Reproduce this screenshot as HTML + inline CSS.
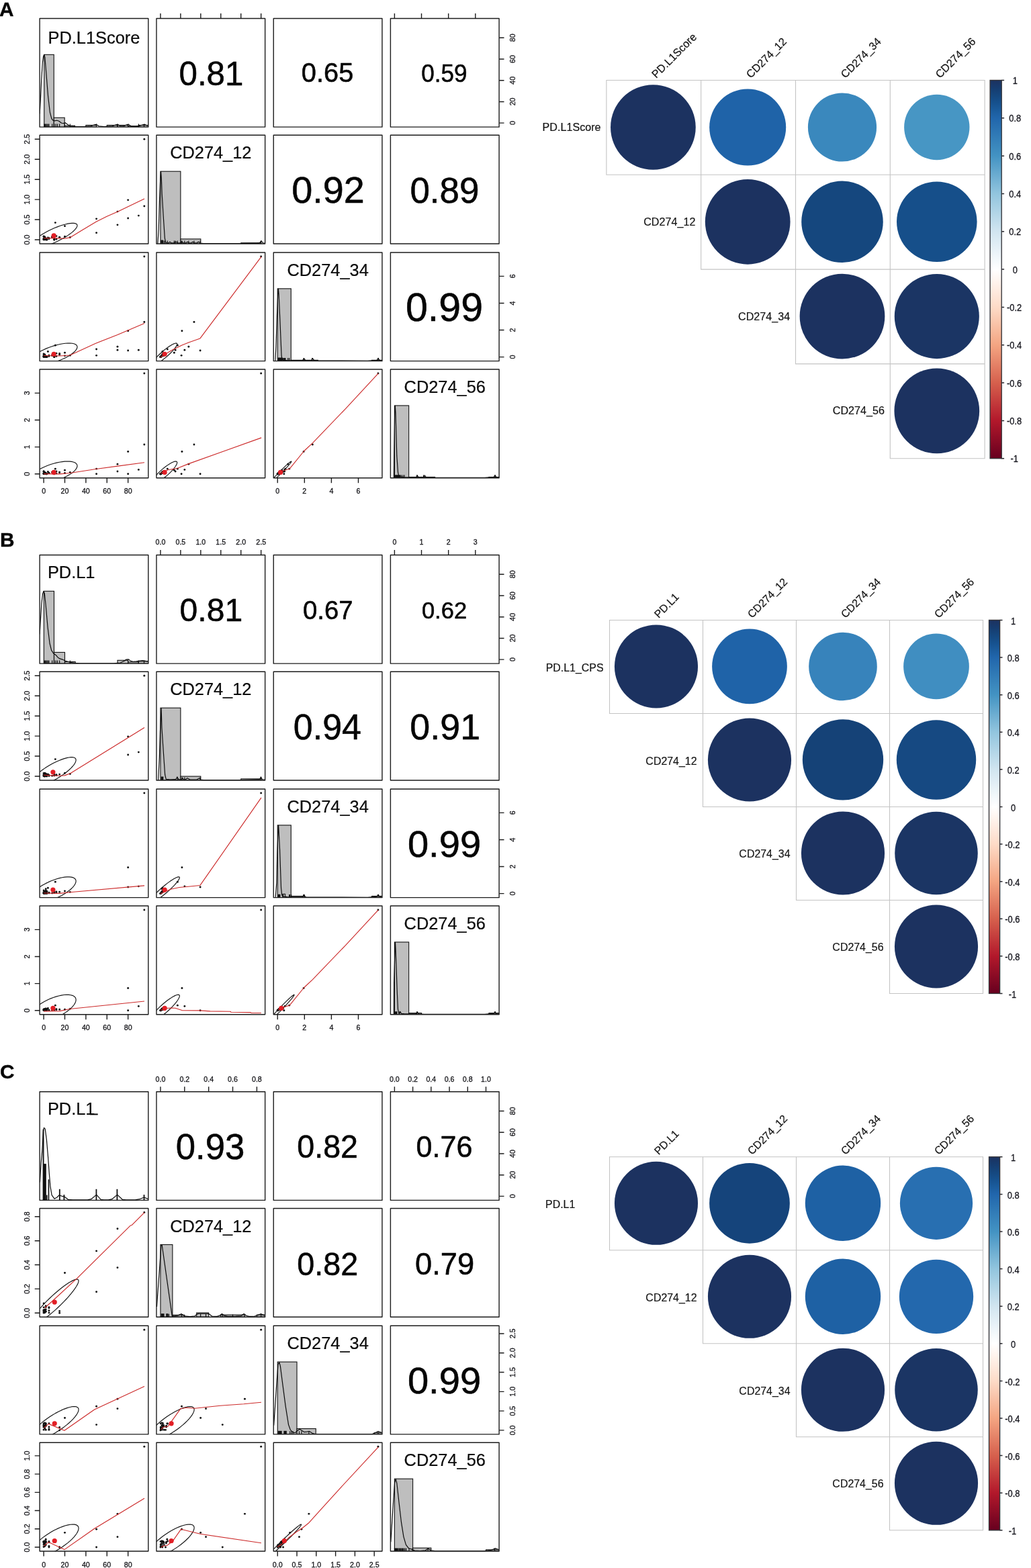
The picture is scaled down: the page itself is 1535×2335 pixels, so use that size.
<!DOCTYPE html>
<html lang="en"><head><meta charset="utf-8"><title>Figure: PD-L1 score vs CD274 expression correlations</title><style>html,body{margin:0;padding:0;background:#fff}body{width:1535px;height:2335px;overflow:hidden}svg{display:block}text{font-family:'Liberation Sans', sans-serif}</style></head><body><svg width="1535" height="2335" viewBox="0 0 1535 2335"><rect width="1535" height="2335" fill="#fff"/>
<!-- panel A -->
<g><text x="-0.9" y="23.9" font-size="29.8" font-weight="bold" fill="#060606" stroke="#060606" stroke-width="0.35">A</text><clipPath id="c1"><rect x="59.1" y="27.45" width="161.7" height="161.7"/></clipPath><g clip-path="url(#c1)"><rect x="65.73" y="81.35" width="14.5" height="107.8" fill="#bebebe" stroke="#111" stroke-width="1.1"/><rect x="80.23" y="175.24" width="15.93" height="13.91" fill="#bebebe" stroke="#111" stroke-width="1.1"/><rect x="96.16" y="187.21" width="15.38" height="1.94" fill="#bebebe" stroke="#111" stroke-width="1.1"/><rect x="127.87" y="186.45" width="15.69" height="2.69" fill="#bebebe" stroke="#111" stroke-width="1.1"/><rect x="159.25" y="186.45" width="15.69" height="2.69" fill="#bebebe" stroke="#111" stroke-width="1.1"/><rect x="174.95" y="186.45" width="15.69" height="2.69" fill="#bebebe" stroke="#111" stroke-width="1.1"/><rect x="190.64" y="187.75" width="15.69" height="1.4" fill="#bebebe" stroke="#111" stroke-width="1.1"/><rect x="206.34" y="186.45" width="15.69" height="2.69" fill="#bebebe" stroke="#111" stroke-width="1.1"/><polyline points="59.1,169.45 60.3,149.45 61.7,119.45 63.3,93.45 64.7,83.45 65.7,81.45 66.9,85.45 68.7,107.45 71.6,143.45 74.4,167.45 76.9,176.95 79.1,179.45 81.6,179.85 84.6,179.25 87.6,180.25 91.6,183.25 95.1,183.65 97.1,182.85 100.1,185.05 104.1,187.65 111.1,188.45 125.1,188.65 135.1,187.85 140.1,186.05 143.1,185.25 147.1,187.85 155.1,188.65 167.1,187.85 172.1,186.05 175.1,185.25 179.1,187.75 184.1,187.85 188.1,186.05 191.1,185.25 195.1,187.85 201.1,188.35 207.1,187.65 212.1,186.05 215.1,185.25 218.1,186.65 221.1,187.45" fill="none" stroke="#0c0c0c" stroke-width="1.2" stroke-linejoin="round"/><path d="M65.72 189.15v-4.6M66.97 189.15v-4.6M68.23 189.15v-4.6M69.8 189.15v-4.6M71.37 189.15v-4.6M72.94 189.15v-4.6M77.64 189.15v-4.6M80.78 189.15v-4.6M83.14 189.15v-4.6M85.49 189.15v-4.6M88.63 189.15v-4.6M96.48 189.15v-4.6M104.32 189.15v-4.6M143.56 189.15v-4.6M174.95 189.15v-4.6M190.64 189.15v-4.6M206.34 189.15v-4.6M214.5 189.15v-4.6" stroke="#0c0c0c" stroke-width="1.15" fill="none"/><text transform="translate(139.95 64.75) scale(0.9650 1)" font-size="26.3" text-anchor="middle" fill="#0b0b0b" stroke="#0b0b0b" stroke-width="0.25">PD.L1Score</text></g><rect x="59.1" y="27.45" width="161.7" height="161.7" fill="none" stroke="#1c1c1c" stroke-width="1.4" stroke-linejoin="round"/><clipPath id="c2"><rect x="232.95" y="27.45" width="161.7" height="161.7"/></clipPath><g clip-path="url(#c2)"><text transform="translate(314.48 126.79) scale(0.9895 1)" font-size="49.82" text-anchor="middle" fill="#050505" stroke="#050505" stroke-width="0.55" stroke-linejoin="round">0.81</text></g><rect x="232.95" y="27.45" width="161.7" height="161.7" fill="none" stroke="#1c1c1c" stroke-width="1.4" stroke-linejoin="round"/><clipPath id="c3"><rect x="407.25" y="27.45" width="161.7" height="161.7"/></clipPath><g clip-path="url(#c3)"><text transform="translate(487.53 122.24) scale(1.0006 1)" font-size="39.82" text-anchor="middle" fill="#050505" stroke="#050505" stroke-width="0.55" stroke-linejoin="round">0.65</text></g><rect x="407.25" y="27.45" width="161.7" height="161.7" fill="none" stroke="#1c1c1c" stroke-width="1.4" stroke-linejoin="round"/><clipPath id="c4"><rect x="581.4" y="27.45" width="161.7" height="161.7"/></clipPath><g clip-path="url(#c4)"><text transform="translate(661.45 121.88) scale(0.9648 1)" font-size="36.41" text-anchor="middle" fill="#050505" stroke="#050505" stroke-width="0.55" stroke-linejoin="round">0.59</text></g><rect x="581.4" y="27.45" width="161.7" height="161.7" fill="none" stroke="#1c1c1c" stroke-width="1.4" stroke-linejoin="round"/><clipPath id="c5"><rect x="59.1" y="201.3" width="161.7" height="161.7"/></clipPath><g clip-path="url(#c5)"><polygon points="113.3,333.18 111.73,332.61 109.68,332.32 107.18,332.31 104.28,332.58 101,333.12 97.41,333.94 93.56,335.01 89.51,336.32 85.32,337.85 81.04,339.58 76.76,341.47 72.52,343.52 68.4,345.67 64.46,347.9 60.76,350.17 57.35,352.46 54.28,354.72 51.61,356.92 49.37,359.03 47.6,361.01 46.32,362.85 45.56,364.5 45.31,365.94 45.6,367.15 46.41,368.12 47.73,368.82 49.55,369.25 51.83,369.41 54.53,369.28 57.63,368.87 61.07,368.19 64.79,367.25 68.75,366.05 72.88,364.63 77.13,363 81.41,361.18 85.68,359.21 89.87,357.11 93.91,354.91 97.74,352.65 101.3,350.37 104.54,348.09 107.42,345.86 109.87,343.7 111.88,341.65 113.41,339.73 114.44,337.99 114.94,336.44 114.92,335.11 114.37,334.02" fill="none" stroke="#141414" stroke-width="1.15" stroke-linejoin="round"/><g fill="#111"><circle cx="214.81" cy="207.29" r="1.45"/><circle cx="214.81" cy="307" r="1.45"/><circle cx="190.64" cy="325.03" r="1.45"/><circle cx="190.64" cy="297.84" r="1.45"/><circle cx="174.95" cy="315.09" r="1.45"/><circle cx="174.95" cy="334.85" r="1.45"/><circle cx="206.34" cy="321.08" r="1.45"/><circle cx="143.56" cy="325.87" r="1.45"/><circle cx="143.56" cy="346.65" r="1.45"/><circle cx="82.35" cy="331.62" r="1.45"/><circle cx="96.48" cy="336.65" r="1.45"/><circle cx="96.48" cy="352.22" r="1.45"/><circle cx="104.32" cy="353.54" r="1.45"/><circle cx="71.37" cy="354.02" r="1.45"/><circle cx="65.09" cy="355.75" r="1.45"/><circle cx="66.66" cy="355.51" r="1.45"/><circle cx="68.23" cy="354.68" r="1.45"/><circle cx="69.8" cy="356.89" r="1.45"/><circle cx="65.09" cy="351.86" r="1.45"/><circle cx="66.66" cy="356.83" r="1.45"/><circle cx="68.23" cy="356.77" r="1.45"/><circle cx="72.94" cy="355.63" r="1.45"/><circle cx="80.78" cy="355.45" r="1.45"/><circle cx="83.92" cy="351.62" r="1.45"/><circle cx="65.09" cy="356.41" r="1.45"/><circle cx="66.66" cy="354.32" r="1.45"/><circle cx="77.64" cy="352.28" r="1.45"/><circle cx="88.63" cy="353.36" r="1.45"/><circle cx="80.78" cy="356.95" r="1.45"/><circle cx="69.8" cy="356.95" r="1.45"/><circle cx="65.09" cy="356.89" r="1.45"/><circle cx="66.66" cy="354.5" r="1.45"/><circle cx="68.23" cy="356.65" r="1.45"/><circle cx="69.8" cy="356.89" r="1.45"/><circle cx="65.09" cy="352.28" r="1.45"/><circle cx="66.66" cy="356.65" r="1.45"/><circle cx="68.23" cy="356.89" r="1.45"/><circle cx="72.94" cy="354.38" r="1.45"/><circle cx="80.78" cy="356.89" r="1.45"/><circle cx="83.92" cy="356.17" r="1.45"/><circle cx="65.09" cy="354.92" r="1.45"/><circle cx="66.66" cy="352.7" r="1.45"/><circle cx="77.64" cy="353.78" r="1.45"/><circle cx="88.63" cy="353.3" r="1.45"/><circle cx="80.78" cy="357.01" r="1.45"/><circle cx="69.8" cy="356.41" r="1.45"/><circle cx="65.09" cy="356.71" r="1.45"/><circle cx="66.66" cy="355.03" r="1.45"/></g><polyline points="65.1,354.8 74.1,354.5 88.6,354.9 96.1,355.3 104.6,353.6 123.1,342.3 143.1,330.3 159.1,322.3 175.1,315.3 215,295.9" fill="none" stroke="#cc2a2a" stroke-width="1.15" stroke-linejoin="round"/><circle cx="80.16" cy="350.84" r="3.6" fill="#e21f26"/></g><rect x="59.1" y="201.3" width="161.7" height="161.7" fill="none" stroke="#1c1c1c" stroke-width="1.4" stroke-linejoin="round"/><clipPath id="c6"><rect x="232.95" y="201.3" width="161.7" height="161.7"/></clipPath><g clip-path="url(#c6)"><rect x="238.94" y="255.2" width="29.94" height="107.8" fill="#bebebe" stroke="#111" stroke-width="1.1"/><rect x="268.88" y="355.89" width="29.94" height="7.11" fill="#bebebe" stroke="#111" stroke-width="1.1"/><rect x="358.72" y="361.71" width="29.94" height="1.29" fill="#bebebe" stroke="#111" stroke-width="1.1"/><polyline points="234.85,362.9 236.25,341.3 237.35,301.4 238.75,266 239.55,255.5 240.35,266 241.15,288.1 243.15,321.3 245.35,354.6 246.45,360.1 248.15,361.6 250.95,361.8 252.95,360.1 254.95,361.8 259.95,361.9 261.95,359.9 263.95,361.9 268.95,361.7 270.95,360.1 272.95,361.8 276.95,361.8 278.95,360.1 280.95,361.8 284.95,361.8 286.95,360.1 288.95,361.9 292.95,361.9 295.45,360.1 297.95,362.1 302.95,362.5 360.95,362.5 382.95,361.9 386.45,361.7 388.95,358.7 391.45,361.9 394.65,362.3" fill="none" stroke="#0c0c0c" stroke-width="1.2" stroke-linejoin="round"/><path d="M244.33 363v-4.6M246.13 363v-4.6M249.3 363v-4.6M259.3 363v-4.6M261.1 363v-4.6M264.33 363v-4.6M270.08 363v-4.6M270.92 363v-4.6M274.87 363v-4.6M280.86 363v-4.6M288.95 363v-4.6M298.11 363v-4.6M388.66 363v-4.6" stroke="#0c0c0c" stroke-width="1.15" fill="none"/><rect x="239.25" y="357.5" width="3.9" height="5.5" fill="#111"/><text transform="translate(313.8 236.45) scale(0.9650 1)" font-size="26.3" text-anchor="middle" fill="#0b0b0b" stroke="#0b0b0b" stroke-width="0.25">CD274_12</text></g><rect x="232.95" y="201.3" width="161.7" height="161.7" fill="none" stroke="#1c1c1c" stroke-width="1.4" stroke-linejoin="round"/><clipPath id="c7"><rect x="407.25" y="201.3" width="161.7" height="161.7"/></clipPath><g clip-path="url(#c7)"><text transform="translate(488.48 302.35) scale(1.0153 1)" font-size="54.95" text-anchor="middle" fill="#050505" stroke="#050505" stroke-width="0.55" stroke-linejoin="round">0.92</text></g><rect x="407.25" y="201.3" width="161.7" height="161.7" fill="none" stroke="#1c1c1c" stroke-width="1.4" stroke-linejoin="round"/><clipPath id="c8"><rect x="581.4" y="201.3" width="161.7" height="161.7"/></clipPath><g clip-path="url(#c8)"><text transform="translate(661.91 301.77) scale(0.9995 1)" font-size="52.96" text-anchor="middle" fill="#050505" stroke="#050505" stroke-width="0.55" stroke-linejoin="round">0.89</text></g><rect x="581.4" y="201.3" width="161.7" height="161.7" fill="none" stroke="#1c1c1c" stroke-width="1.4" stroke-linejoin="round"/><clipPath id="c9"><rect x="59.1" y="375.95" width="161.7" height="161.7"/></clipPath><g clip-path="url(#c9)"><polygon points="111.8,512.51 109.77,511.78 107.29,511.29 104.4,511.05 101.14,511.05 97.56,511.29 93.72,511.78 89.68,512.5 85.49,513.44 81.21,514.6 76.93,515.95 72.69,517.46 68.56,519.13 64.61,520.92 60.9,522.8 57.48,524.75 54.4,526.75 51.71,528.74 49.45,530.72 47.66,532.64 46.36,534.48 45.58,536.21 45.31,537.81 45.58,539.24 46.37,540.5 47.67,541.55 49.47,542.39 51.73,542.99 54.42,543.36 57.5,543.49 60.92,543.36 64.64,543 68.59,542.39 72.72,541.56 76.95,540.51 81.24,539.25 85.51,537.82 89.7,536.22 93.75,534.49 97.59,532.65 101.16,530.73 104.42,528.76 107.31,526.76 109.79,524.77 111.81,522.82 113.36,520.93 114.41,519.14 114.93,517.47 114.93,515.95 114.4,514.61 113.35,513.45" fill="none" stroke="#141414" stroke-width="1.15" stroke-linejoin="round"/><g fill="#111"><circle cx="214.81" cy="381.94" r="1.45"/><circle cx="214.81" cy="479.55" r="1.45"/><circle cx="190.64" cy="492.78" r="1.45"/><circle cx="190.64" cy="522.04" r="1.45"/><circle cx="174.95" cy="516.23" r="1.45"/><circle cx="174.95" cy="521.24" r="1.45"/><circle cx="206.34" cy="521.24" r="1.45"/><circle cx="143.56" cy="529.36" r="1.45"/><circle cx="143.56" cy="520.04" r="1.45"/><circle cx="82.35" cy="514.22" r="1.45"/><circle cx="96.48" cy="525.25" r="1.45"/><circle cx="96.48" cy="529.86" r="1.45"/><circle cx="104.32" cy="529.36" r="1.45"/><circle cx="71.37" cy="523.44" r="1.45"/><circle cx="65.09" cy="530.04" r="1.45"/><circle cx="66.66" cy="530.46" r="1.45"/><circle cx="68.23" cy="530.1" r="1.45"/><circle cx="69.8" cy="531.56" r="1.45"/><circle cx="65.09" cy="526.83" r="1.45"/><circle cx="66.66" cy="531.42" r="1.45"/><circle cx="68.23" cy="531.44" r="1.45"/><circle cx="72.94" cy="530.44" r="1.45"/><circle cx="80.78" cy="530.22" r="1.45"/><circle cx="83.92" cy="526.15" r="1.45"/><circle cx="65.09" cy="531.06" r="1.45"/><circle cx="66.66" cy="528.03" r="1.45"/><circle cx="77.64" cy="528.86" r="1.45"/><circle cx="88.63" cy="526.53" r="1.45"/><circle cx="80.78" cy="531.58" r="1.45"/><circle cx="69.8" cy="531.54" r="1.45"/><circle cx="65.09" cy="531.56" r="1.45"/><circle cx="66.66" cy="528.39" r="1.45"/><circle cx="68.23" cy="531.42" r="1.45"/><circle cx="69.8" cy="531.54" r="1.45"/><circle cx="65.09" cy="527.91" r="1.45"/><circle cx="66.66" cy="531.2" r="1.45"/><circle cx="68.23" cy="531.56" r="1.45"/><circle cx="72.94" cy="529.08" r="1.45"/><circle cx="80.78" cy="531.58" r="1.45"/><circle cx="83.92" cy="530.46" r="1.45"/><circle cx="65.09" cy="530.2" r="1.45"/><circle cx="66.66" cy="528.43" r="1.45"/><circle cx="77.64" cy="529.44" r="1.45"/><circle cx="88.63" cy="528.17" r="1.45"/><circle cx="80.78" cy="531.64" r="1.45"/><circle cx="69.8" cy="531.12" r="1.45"/><circle cx="65.09" cy="531.46" r="1.45"/><circle cx="66.66" cy="529.74" r="1.45"/></g><polyline points="65.1,529.55 89.1,529.95 104.1,528.95 142.1,511.45 175.1,498.45 215,481.45" fill="none" stroke="#cc2a2a" stroke-width="1.15" stroke-linejoin="round"/><circle cx="80.16" cy="527.25" r="3.6" fill="#e21f26"/></g><rect x="59.1" y="375.95" width="161.7" height="161.7" fill="none" stroke="#1c1c1c" stroke-width="1.4" stroke-linejoin="round"/><clipPath id="c10"><rect x="232.95" y="375.95" width="161.7" height="161.7"/></clipPath><g clip-path="url(#c10)"><polygon points="263.3,511.34 262.7,511.07 261.84,511.03 260.73,511.25 259.38,511.7 257.81,512.39 256.05,513.31 254.12,514.44 252.06,515.76 249.89,517.25 247.65,518.9 245.37,520.68 243.09,522.55 240.84,524.5 238.65,526.48 236.56,528.48 234.6,530.46 232.8,532.39 231.18,534.25 229.78,535.99 228.61,537.61 227.69,539.07 227.03,540.35 226.65,541.43 226.54,542.29 226.72,542.93 227.18,543.33 227.91,543.48 228.9,543.39 230.13,543.06 231.6,542.49 233.26,541.68 235.11,540.66 237.11,539.43 239.23,538.02 241.44,536.44 243.7,534.73 245.99,532.9 248.26,530.99 250.48,529.02 252.63,527.02 254.66,525.03 256.54,523.07 258.25,521.17 259.76,519.37 261.05,517.68 262.1,516.14 262.89,514.77 263.41,513.59 263.65,512.62 263.62,511.86" fill="none" stroke="#141414" stroke-width="1.15" stroke-linejoin="round"/><g fill="#111"><circle cx="388.66" cy="381.94" r="1.45"/><circle cx="288.95" cy="479.55" r="1.45"/><circle cx="270.92" cy="492.78" r="1.45"/><circle cx="298.11" cy="522.04" r="1.45"/><circle cx="280.86" cy="516.23" r="1.45"/><circle cx="261.1" cy="521.24" r="1.45"/><circle cx="274.87" cy="521.24" r="1.45"/><circle cx="270.08" cy="529.36" r="1.45"/><circle cx="249.3" cy="520.04" r="1.45"/><circle cx="264.33" cy="514.22" r="1.45"/><circle cx="259.3" cy="525.25" r="1.45"/><circle cx="243.73" cy="529.86" r="1.45"/><circle cx="242.41" cy="529.36" r="1.45"/><circle cx="241.93" cy="523.44" r="1.45"/><circle cx="240.2" cy="530.04" r="1.45"/><circle cx="240.44" cy="530.46" r="1.45"/><circle cx="241.27" cy="530.1" r="1.45"/><circle cx="239.06" cy="531.56" r="1.45"/><circle cx="244.09" cy="526.83" r="1.45"/><circle cx="239.12" cy="531.42" r="1.45"/><circle cx="239.18" cy="531.44" r="1.45"/><circle cx="240.32" cy="530.44" r="1.45"/><circle cx="240.5" cy="530.22" r="1.45"/><circle cx="244.33" cy="526.15" r="1.45"/><circle cx="239.54" cy="531.06" r="1.45"/><circle cx="241.63" cy="528.03" r="1.45"/><circle cx="243.67" cy="528.86" r="1.45"/><circle cx="242.59" cy="526.53" r="1.45"/><circle cx="239" cy="531.58" r="1.45"/><circle cx="239" cy="531.54" r="1.45"/><circle cx="239.06" cy="531.56" r="1.45"/><circle cx="241.45" cy="528.39" r="1.45"/><circle cx="239.3" cy="531.42" r="1.45"/><circle cx="239.06" cy="531.54" r="1.45"/><circle cx="243.67" cy="527.91" r="1.45"/><circle cx="239.3" cy="531.2" r="1.45"/><circle cx="239.06" cy="531.56" r="1.45"/><circle cx="241.57" cy="529.08" r="1.45"/><circle cx="239.06" cy="531.58" r="1.45"/><circle cx="239.78" cy="530.46" r="1.45"/><circle cx="241.03" cy="530.2" r="1.45"/><circle cx="243.25" cy="528.43" r="1.45"/><circle cx="242.17" cy="529.44" r="1.45"/><circle cx="242.65" cy="528.17" r="1.45"/><circle cx="238.94" cy="531.64" r="1.45"/><circle cx="239.54" cy="531.12" r="1.45"/><circle cx="239.24" cy="531.46" r="1.45"/><circle cx="240.92" cy="529.74" r="1.45"/></g><polyline points="238.95,531.95 244.95,527.95 256.95,520.95 270.95,513.95 280.95,509.95 297.95,503.95 388.95,382.45" fill="none" stroke="#cc2a2a" stroke-width="1.15" stroke-linejoin="round"/><circle cx="245.11" cy="527.25" r="3.6" fill="#e21f26"/></g><rect x="232.95" y="375.95" width="161.7" height="161.7" fill="none" stroke="#1c1c1c" stroke-width="1.4" stroke-linejoin="round"/><clipPath id="c11"><rect x="407.25" y="375.95" width="161.7" height="161.7"/></clipPath><g clip-path="url(#c11)"><rect x="413.24" y="429.85" width="20.04" height="107.8" fill="#bebebe" stroke="#111" stroke-width="1.1"/><rect x="433.28" y="536.36" width="20.04" height="1.29" fill="#bebebe" stroke="#111" stroke-width="1.1"/><rect x="453.33" y="536.36" width="20.04" height="1.29" fill="#bebebe" stroke="#111" stroke-width="1.1"/><rect x="553.54" y="536.36" width="20.04" height="1.29" fill="#bebebe" stroke="#111" stroke-width="1.1"/><polyline points="409.85,537.35 410.95,515.85 412.45,469.25 413.75,438.25 414.45,430.35 415.15,438.25 416.85,475.95 419.05,529.05 419.85,534.65 421.25,536.25 427.25,536.55 447.25,536.75 450.25,536.55 450.25,536.65 451.57,535.5 452.65,533.55 453.73,535.5 455.05,536.65 459.25,536.75 463.15,536.65 464.47,535.5 465.55,533.55 466.63,535.5 467.95,536.65 473.25,537.15 547.25,537.25 557.25,536.55 560.75,536.55 562.07,535.35 563.15,533.35 564.23,535.35 565.55,536.55 568.95,536.95" fill="none" stroke="#0c0c0c" stroke-width="1.2" stroke-linejoin="round"/><path d="M421.46 537.65v-4.6M422.86 537.65v-4.6M423.66 537.65v-4.6M424.86 537.65v-4.6M428.67 537.65v-4.6M430.68 537.65v-4.6M452.12 537.65v-4.6M464.55 537.65v-4.6M562.96 537.65v-4.6" stroke="#0c0c0c" stroke-width="1.15" fill="none"/><rect x="413.55" y="532.55" width="7.2" height="5.1" fill="#111"/><text transform="translate(488.1 411.1) scale(0.9650 1)" font-size="26.3" text-anchor="middle" fill="#0b0b0b" stroke="#0b0b0b" stroke-width="0.25">CD274_34</text></g><rect x="407.25" y="375.95" width="161.7" height="161.7" fill="none" stroke="#1c1c1c" stroke-width="1.4" stroke-linejoin="round"/><clipPath id="c12"><rect x="581.4" y="375.95" width="161.7" height="161.7"/></clipPath><g clip-path="url(#c12)"><text transform="translate(661.51 477.93) scale(1.0143 1)" font-size="58.32" text-anchor="middle" fill="#050505" stroke="#050505" stroke-width="0.55" stroke-linejoin="round">0.99</text></g><rect x="581.4" y="375.95" width="161.7" height="161.7" fill="none" stroke="#1c1c1c" stroke-width="1.4" stroke-linejoin="round"/><clipPath id="c13"><rect x="59.1" y="550.05" width="161.7" height="161.7"/></clipPath><g clip-path="url(#c13)"><polygon points="111.22,688.8 109.05,687.99 106.43,687.42 103.42,687.1 100.06,687.02 96.4,687.19 92.49,687.61 88.39,688.27 84.16,689.16 79.88,690.26 75.6,691.57 71.39,693.06 67.31,694.7 63.43,696.48 59.8,698.36 56.48,700.32 53.52,702.33 50.96,704.36 48.85,706.37 47.2,708.34 46.06,710.23 45.44,712.03 45.34,713.69 45.77,715.2 46.72,716.53 48.18,717.66 50.12,718.58 52.52,719.27 55.33,719.72 58.53,719.92 62.05,719.87 65.84,719.58 69.85,719.04 74.02,718.26 78.28,717.26 82.57,716.05 86.83,714.66 90.98,713.09 94.97,711.37 98.73,709.54 102.21,707.61 105.36,705.62 108.12,703.6 110.46,701.58 112.35,699.58 113.74,697.65 114.62,695.8 114.99,694.07 114.82,692.48 114.13,691.06 112.92,689.83" fill="none" stroke="#141414" stroke-width="1.15" stroke-linejoin="round"/><g fill="#111"><circle cx="214.81" cy="556.04" r="1.45"/><circle cx="214.81" cy="662.01" r="1.45"/><circle cx="190.64" cy="672.44" r="1.45"/><circle cx="190.64" cy="705.76" r="1.45"/><circle cx="174.95" cy="691.15" r="1.45"/><circle cx="174.95" cy="701.99" r="1.45"/><circle cx="206.34" cy="699.42" r="1.45"/><circle cx="143.56" cy="705.76" r="1.45"/><circle cx="143.56" cy="698.13" r="1.45"/><circle cx="82.35" cy="698.13" r="1.45"/><circle cx="96.48" cy="700.14" r="1.45"/><circle cx="96.48" cy="704.56" r="1.45"/><circle cx="104.32" cy="703.35" r="1.45"/><circle cx="71.37" cy="702.55" r="1.45"/><circle cx="65.09" cy="704.84" r="1.45"/><circle cx="66.66" cy="704.64" r="1.45"/><circle cx="68.23" cy="704.4" r="1.45"/><circle cx="69.8" cy="705.72" r="1.45"/><circle cx="65.09" cy="702.31" r="1.45"/><circle cx="66.66" cy="705.64" r="1.45"/><circle cx="68.23" cy="705.52" r="1.45"/><circle cx="72.94" cy="704.8" r="1.45"/><circle cx="80.78" cy="704.84" r="1.45"/><circle cx="83.92" cy="701.99" r="1.45"/><circle cx="65.09" cy="705.4" r="1.45"/><circle cx="66.66" cy="703.75" r="1.45"/><circle cx="77.64" cy="703.27" r="1.45"/><circle cx="88.63" cy="703.11" r="1.45"/><circle cx="80.78" cy="705.72" r="1.45"/><circle cx="69.8" cy="705.68" r="1.45"/><circle cx="65.09" cy="705.68" r="1.45"/><circle cx="66.66" cy="703.55" r="1.45"/><circle cx="68.23" cy="705.52" r="1.45"/><circle cx="69.8" cy="705.68" r="1.45"/><circle cx="65.09" cy="701.79" r="1.45"/><circle cx="66.66" cy="705.48" r="1.45"/><circle cx="68.23" cy="705.68" r="1.45"/><circle cx="72.94" cy="704.2" r="1.45"/><circle cx="80.78" cy="705.68" r="1.45"/><circle cx="83.92" cy="705.08" r="1.45"/><circle cx="65.09" cy="704.72" r="1.45"/><circle cx="66.66" cy="703.51" r="1.45"/><circle cx="77.64" cy="703.11" r="1.45"/><circle cx="88.63" cy="703.75" r="1.45"/><circle cx="80.78" cy="705.72" r="1.45"/><circle cx="69.8" cy="705.44" r="1.45"/><circle cx="65.09" cy="705.6" r="1.45"/><circle cx="66.66" cy="704.64" r="1.45"/></g><polyline points="65.1,705.65 89.1,705.85 104.1,704.45 142.8,698.55 175.1,694.15 215,688.75" fill="none" stroke="#cc2a2a" stroke-width="1.15" stroke-linejoin="round"/><circle cx="80.16" cy="703.47" r="3.6" fill="#e21f26"/></g><rect x="59.1" y="550.05" width="161.7" height="161.7" fill="none" stroke="#1c1c1c" stroke-width="1.4" stroke-linejoin="round"/><clipPath id="c14"><rect x="232.95" y="550.05" width="161.7" height="161.7"/></clipPath><g clip-path="url(#c14)"><polygon points="263.16,687.47 262.48,687.12 261.55,687.02 260.36,687.16 258.95,687.55 257.32,688.19 255.51,689.05 253.54,690.13 251.45,691.42 249.25,692.89 247,694.52 244.72,696.28 242.44,698.15 240.2,700.11 238.04,702.11 235.98,704.14 234.06,706.15 232.31,708.13 230.76,710.03 229.42,711.84 228.32,713.52 227.47,715.04 226.89,716.39 226.59,717.55 226.57,718.49 226.83,719.2 227.36,719.68 228.17,719.91 229.23,719.89 230.53,719.62 232.06,719.11 233.78,718.36 235.67,717.38 237.71,716.19 239.85,714.81 242.08,713.26 244.36,711.56 246.64,709.74 248.9,707.82 251.11,705.84 253.22,703.82 255.21,701.8 257.05,699.8 258.71,697.85 260.16,696 261.38,694.25 262.35,692.65 263.07,691.2 263.51,689.95 263.67,688.9 263.55,688.07" fill="none" stroke="#141414" stroke-width="1.15" stroke-linejoin="round"/><g fill="#111"><circle cx="388.66" cy="556.04" r="1.45"/><circle cx="288.95" cy="662.01" r="1.45"/><circle cx="270.92" cy="672.44" r="1.45"/><circle cx="298.11" cy="705.76" r="1.45"/><circle cx="280.86" cy="691.15" r="1.45"/><circle cx="261.1" cy="701.99" r="1.45"/><circle cx="274.87" cy="699.42" r="1.45"/><circle cx="270.08" cy="705.76" r="1.45"/><circle cx="249.3" cy="698.13" r="1.45"/><circle cx="264.33" cy="698.13" r="1.45"/><circle cx="259.3" cy="700.14" r="1.45"/><circle cx="243.73" cy="704.56" r="1.45"/><circle cx="242.41" cy="703.35" r="1.45"/><circle cx="241.93" cy="702.55" r="1.45"/><circle cx="240.2" cy="704.84" r="1.45"/><circle cx="240.44" cy="704.64" r="1.45"/><circle cx="241.27" cy="704.4" r="1.45"/><circle cx="239.06" cy="705.72" r="1.45"/><circle cx="244.09" cy="702.31" r="1.45"/><circle cx="239.12" cy="705.64" r="1.45"/><circle cx="239.18" cy="705.52" r="1.45"/><circle cx="240.32" cy="704.8" r="1.45"/><circle cx="240.5" cy="704.84" r="1.45"/><circle cx="244.33" cy="701.99" r="1.45"/><circle cx="239.54" cy="705.4" r="1.45"/><circle cx="241.63" cy="703.75" r="1.45"/><circle cx="243.67" cy="703.27" r="1.45"/><circle cx="242.59" cy="703.11" r="1.45"/><circle cx="239" cy="705.72" r="1.45"/><circle cx="239" cy="705.68" r="1.45"/><circle cx="239.06" cy="705.68" r="1.45"/><circle cx="241.45" cy="703.55" r="1.45"/><circle cx="239.3" cy="705.52" r="1.45"/><circle cx="239.06" cy="705.68" r="1.45"/><circle cx="243.67" cy="701.79" r="1.45"/><circle cx="239.3" cy="705.48" r="1.45"/><circle cx="239.06" cy="705.68" r="1.45"/><circle cx="241.57" cy="704.2" r="1.45"/><circle cx="239.06" cy="705.68" r="1.45"/><circle cx="239.78" cy="705.08" r="1.45"/><circle cx="241.03" cy="704.72" r="1.45"/><circle cx="243.25" cy="703.51" r="1.45"/><circle cx="242.17" cy="703.11" r="1.45"/><circle cx="242.65" cy="703.75" r="1.45"/><circle cx="238.94" cy="705.72" r="1.45"/><circle cx="239.54" cy="705.44" r="1.45"/><circle cx="239.24" cy="705.6" r="1.45"/><circle cx="240.92" cy="704.64" r="1.45"/></g><polyline points="238.95,705.05 250.05,699.75 263.75,697.45 280.85,690.65 332.95,672.05 389.15,651.85" fill="none" stroke="#cc2a2a" stroke-width="1.15" stroke-linejoin="round"/><circle cx="245.11" cy="703.47" r="3.6" fill="#e21f26"/></g><rect x="232.95" y="550.05" width="161.7" height="161.7" fill="none" stroke="#1c1c1c" stroke-width="1.4" stroke-linejoin="round"/><clipPath id="c15"><rect x="407.25" y="550.05" width="161.7" height="161.7"/></clipPath><g clip-path="url(#c15)"><polygon points="433.84,687.06 433.58,687.04 433.07,687.27 432.33,687.75 431.37,688.46 430.2,689.4 428.84,690.56 427.31,691.91 425.64,693.44 423.84,695.11 421.95,696.92 419.99,698.82 418,700.8 416,702.82 414.03,704.84 412.11,706.85 410.28,708.8 408.56,710.67 406.97,712.44 405.55,714.07 404.31,715.53 403.28,716.82 402.46,717.9 401.87,718.76 401.52,719.4 401.41,719.79 401.56,719.93 401.94,719.82 402.56,719.47 403.42,718.87 404.48,718.04 405.75,716.99 407.2,715.74 408.81,714.29 410.55,712.69 412.39,710.94 414.32,709.08 416.3,707.14 418.3,705.14 420.29,703.12 422.23,701.1 424.11,699.11 425.89,697.2 427.55,695.38 429.06,693.68 430.39,692.13 431.53,690.75 432.46,689.56 433.16,688.59 433.63,687.84 433.86,687.32" fill="none" stroke="#141414" stroke-width="1.15" stroke-linejoin="round"/><g fill="#111"><circle cx="562.96" cy="556.04" r="1.45"/><circle cx="465.35" cy="662.01" r="1.45"/><circle cx="452.12" cy="672.44" r="1.45"/><circle cx="422.86" cy="705.76" r="1.45"/><circle cx="428.67" cy="691.15" r="1.45"/><circle cx="423.66" cy="701.99" r="1.45"/><circle cx="423.66" cy="699.42" r="1.45"/><circle cx="415.54" cy="705.76" r="1.45"/><circle cx="424.86" cy="698.13" r="1.45"/><circle cx="430.68" cy="698.13" r="1.45"/><circle cx="419.65" cy="700.14" r="1.45"/><circle cx="415.04" cy="704.56" r="1.45"/><circle cx="415.54" cy="703.35" r="1.45"/><circle cx="421.46" cy="702.55" r="1.45"/><circle cx="414.86" cy="704.84" r="1.45"/><circle cx="414.44" cy="704.64" r="1.45"/><circle cx="414.8" cy="704.4" r="1.45"/><circle cx="413.34" cy="705.72" r="1.45"/><circle cx="418.07" cy="702.31" r="1.45"/><circle cx="413.48" cy="705.64" r="1.45"/><circle cx="413.46" cy="705.52" r="1.45"/><circle cx="414.46" cy="704.8" r="1.45"/><circle cx="414.68" cy="704.84" r="1.45"/><circle cx="418.75" cy="701.99" r="1.45"/><circle cx="413.84" cy="705.4" r="1.45"/><circle cx="416.87" cy="703.75" r="1.45"/><circle cx="416.04" cy="703.27" r="1.45"/><circle cx="418.37" cy="703.11" r="1.45"/><circle cx="413.32" cy="705.72" r="1.45"/><circle cx="413.36" cy="705.68" r="1.45"/><circle cx="413.34" cy="705.68" r="1.45"/><circle cx="416.51" cy="703.55" r="1.45"/><circle cx="413.48" cy="705.52" r="1.45"/><circle cx="413.36" cy="705.68" r="1.45"/><circle cx="416.99" cy="701.79" r="1.45"/><circle cx="413.7" cy="705.48" r="1.45"/><circle cx="413.34" cy="705.68" r="1.45"/><circle cx="415.82" cy="704.2" r="1.45"/><circle cx="413.32" cy="705.68" r="1.45"/><circle cx="414.44" cy="705.08" r="1.45"/><circle cx="414.7" cy="704.72" r="1.45"/><circle cx="416.47" cy="703.51" r="1.45"/><circle cx="415.46" cy="703.11" r="1.45"/><circle cx="416.73" cy="703.75" r="1.45"/><circle cx="413.26" cy="705.72" r="1.45"/><circle cx="413.78" cy="705.44" r="1.45"/><circle cx="413.44" cy="705.6" r="1.45"/><circle cx="415.16" cy="704.64" r="1.45"/></g><polyline points="414.25,705.05 418.75,702.05 431.35,697.95 452.55,671.75 465.55,659.55 514.55,608.55 563.15,556.15" fill="none" stroke="#cc2a2a" stroke-width="1.15" stroke-linejoin="round"/><circle cx="417.65" cy="703.47" r="3.6" fill="#e21f26"/></g><rect x="407.25" y="550.05" width="161.7" height="161.7" fill="none" stroke="#1c1c1c" stroke-width="1.4" stroke-linejoin="round"/><clipPath id="c16"><rect x="581.4" y="550.05" width="161.7" height="161.7"/></clipPath><g clip-path="url(#c16)"><rect x="587.39" y="603.95" width="21.27" height="107.8" fill="#bebebe" stroke="#111" stroke-width="1.1"/><rect x="608.66" y="710.46" width="18.87" height="1.29" fill="#bebebe" stroke="#111" stroke-width="1.1"/><rect x="627.53" y="710.46" width="20.07" height="1.29" fill="#bebebe" stroke="#111" stroke-width="1.1"/><rect x="727.88" y="710.46" width="20.07" height="1.29" fill="#bebebe" stroke="#111" stroke-width="1.1"/><polyline points="586.4,711.35 586.75,676.45 587.7,614.45 588.3,604.25 589,614.45 590.8,678.65 592.5,703.05 593.6,708.55 595.3,709.85 601.4,710.65 617.4,710.85 619.1,710.85 620.31,709.75 621.3,707.85 622.29,709.75 623.5,710.85 627.4,710.85 630.2,710.85 631.41,709.75 632.4,707.85 633.39,709.75 634.6,710.85 641.4,711.25 721.4,711.35 731.4,710.65 734.8,710.65 736.01,709.55 737,707.65 737.99,709.55 739.2,710.65 743.1,711.05" fill="none" stroke="#0c0c0c" stroke-width="1.2" stroke-linejoin="round"/><path d="M597.42 711.75v-4.6M599.83 711.75v-4.6M602 711.75v-4.6M620.71 711.75v-4.6M630.58 711.75v-4.6M737.11 711.75v-4.6" stroke="#0c0c0c" stroke-width="1.15" fill="none"/><rect x="587.5" y="707.25" width="8.9" height="4.5" fill="#111"/><text transform="translate(662.25 585.2) scale(0.9650 1)" font-size="26.3" text-anchor="middle" fill="#0b0b0b" stroke="#0b0b0b" stroke-width="0.25">CD274_56</text></g><rect x="581.4" y="550.05" width="161.7" height="161.7" fill="none" stroke="#1c1c1c" stroke-width="1.4" stroke-linejoin="round"/><path d="M65.09 711.75v7.4M96.48 711.75v7.4M127.87 711.75v7.4M159.25 711.75v7.4M190.64 711.75v7.4M238.94 27.45v-7.4M268.88 27.45v-7.4M298.83 27.45v-7.4M328.77 27.45v-7.4M358.72 27.45v-7.4M388.66 27.45v-7.4M413.24 711.75v7.4M453.33 711.75v7.4M493.41 711.75v7.4M533.5 711.75v7.4M587.39 27.45v-7.4M627.53 27.45v-7.4M667.67 27.45v-7.4M707.81 27.45v-7.4M743.1 183.16h7.4M743.1 151.44h7.4M743.1 119.72h7.4M743.1 88h7.4M743.1 56.28h7.4M59.1 357.01h-7.4M59.1 327.07h-7.4M59.1 297.12h-7.4M59.1 267.18h-7.4M59.1 237.23h-7.4M59.1 207.29h-7.4M743.1 531.66h7.4M743.1 491.57h7.4M743.1 451.49h7.4M743.1 411.4h7.4M59.1 705.76h-7.4M59.1 665.62h-7.4M59.1 625.48h-7.4M59.1 585.34h-7.4" stroke="#1c1c1c" stroke-width="1.4" fill="none"/><g fill="#12121a" stroke="#12121a" stroke-width="0.32"><text transform="translate(65.09 735.35) scale(0.9200 1)" font-size="11.6" text-anchor="middle" fill="#1a1a1a">0</text><text transform="translate(96.48 735.35) scale(0.9200 1)" font-size="11.6" text-anchor="middle" fill="#1a1a1a">20</text><text transform="translate(127.87 735.35) scale(0.9200 1)" font-size="11.6" text-anchor="middle" fill="#1a1a1a">40</text><text transform="translate(159.25 735.35) scale(0.9200 1)" font-size="11.6" text-anchor="middle" fill="#1a1a1a">60</text><text transform="translate(190.64 735.35) scale(0.9200 1)" font-size="11.6" text-anchor="middle" fill="#1a1a1a">80</text><text transform="translate(413.24 735.35) scale(0.9200 1)" font-size="11.6" text-anchor="middle" fill="#1a1a1a">0</text><text transform="translate(453.33 735.35) scale(0.9200 1)" font-size="11.6" text-anchor="middle" fill="#1a1a1a">2</text><text transform="translate(493.41 735.35) scale(0.9200 1)" font-size="11.6" text-anchor="middle" fill="#1a1a1a">4</text><text transform="translate(533.5 735.35) scale(0.9200 1)" font-size="11.6" text-anchor="middle" fill="#1a1a1a">6</text><text transform="translate(767.3 183.16) rotate(-90) scale(0.9200 1)" font-size="11.6" text-anchor="middle" fill="#1a1a1a">0</text><text transform="translate(767.3 151.44) rotate(-90) scale(0.9200 1)" font-size="11.6" text-anchor="middle" fill="#1a1a1a">20</text><text transform="translate(767.3 119.72) rotate(-90) scale(0.9200 1)" font-size="11.6" text-anchor="middle" fill="#1a1a1a">40</text><text transform="translate(767.3 88) rotate(-90) scale(0.9200 1)" font-size="11.6" text-anchor="middle" fill="#1a1a1a">60</text><text transform="translate(767.3 56.28) rotate(-90) scale(0.9200 1)" font-size="11.6" text-anchor="middle" fill="#1a1a1a">80</text><text transform="translate(43.6 357.01) rotate(-90) scale(0.9200 1)" font-size="11.6" text-anchor="middle" fill="#1a1a1a">0.0</text><text transform="translate(43.6 327.07) rotate(-90) scale(0.9200 1)" font-size="11.6" text-anchor="middle" fill="#1a1a1a">0.5</text><text transform="translate(43.6 297.12) rotate(-90) scale(0.9200 1)" font-size="11.6" text-anchor="middle" fill="#1a1a1a">1.0</text><text transform="translate(43.6 267.18) rotate(-90) scale(0.9200 1)" font-size="11.6" text-anchor="middle" fill="#1a1a1a">1.5</text><text transform="translate(43.6 237.23) rotate(-90) scale(0.9200 1)" font-size="11.6" text-anchor="middle" fill="#1a1a1a">2.0</text><text transform="translate(43.6 207.29) rotate(-90) scale(0.9200 1)" font-size="11.6" text-anchor="middle" fill="#1a1a1a">2.5</text><text transform="translate(767.3 531.66) rotate(-90) scale(0.9200 1)" font-size="11.6" text-anchor="middle" fill="#1a1a1a">0</text><text transform="translate(767.3 491.57) rotate(-90) scale(0.9200 1)" font-size="11.6" text-anchor="middle" fill="#1a1a1a">2</text><text transform="translate(767.3 451.49) rotate(-90) scale(0.9200 1)" font-size="11.6" text-anchor="middle" fill="#1a1a1a">4</text><text transform="translate(767.3 411.4) rotate(-90) scale(0.9200 1)" font-size="11.6" text-anchor="middle" fill="#1a1a1a">6</text><text transform="translate(43.6 705.76) rotate(-90) scale(0.9200 1)" font-size="11.6" text-anchor="middle" fill="#1a1a1a">0</text><text transform="translate(43.6 665.62) rotate(-90) scale(0.9200 1)" font-size="11.6" text-anchor="middle" fill="#1a1a1a">1</text><text transform="translate(43.6 625.48) rotate(-90) scale(0.9200 1)" font-size="11.6" text-anchor="middle" fill="#1a1a1a">2</text><text transform="translate(43.6 585.34) rotate(-90) scale(0.9200 1)" font-size="11.6" text-anchor="middle" fill="#1a1a1a">3</text></g><path d="M902.9 119.5h140.8v140.8h-140.8zM1043.7 119.5h140.8v140.8h-140.8zM1184.5 119.5h140.8v140.8h-140.8zM1325.3 119.5h140.8v140.8h-140.8zM1043.7 260.3h140.8v140.8h-140.8zM1184.5 260.3h140.8v140.8h-140.8zM1325.3 260.3h140.8v140.8h-140.8zM1184.5 401.1h140.8v140.8h-140.8zM1325.3 401.1h140.8v140.8h-140.8zM1325.3 541.9h140.8v140.8h-140.8z" fill="none" stroke="#c4c4c4" stroke-width="1.1"/><circle cx="972.4" cy="189.5" r="63.36" fill="#1c3260"/><circle cx="1113.2" cy="189.5" r="57.02" fill="#1f63a8"/><circle cx="1254" cy="189.5" r="51.08" fill="#3a88bd"/><circle cx="1394.8" cy="189.5" r="48.67" fill="#4796c4"/><circle cx="1113.2" cy="330.3" r="63.36" fill="#1c3260"/><circle cx="1254" cy="330.3" r="60.77" fill="#15477e"/><circle cx="1394.8" cy="330.3" r="59.77" fill="#164f8a"/><circle cx="1254" cy="471.1" r="63.36" fill="#1c3260"/><circle cx="1394.8" cy="471.1" r="63.04" fill="#1b3564"/><circle cx="1394.8" cy="611.9" r="63.36" fill="#1c3260"/><text transform="translate(894.6 195.47) scale(0.9850 1)" font-size="16.4" text-anchor="end" fill="#141414" stroke="#141414" stroke-width="0.2">PD.L1Score</text><text transform="translate(1035.4 336.07) scale(0.9850 1)" font-size="16.4" text-anchor="end" fill="#141414" stroke="#141414" stroke-width="0.2">CD274_12</text><text transform="translate(1176.2 476.57) scale(0.9850 1)" font-size="16.4" text-anchor="end" fill="#141414" stroke="#141414" stroke-width="0.2">CD274_34</text><text transform="translate(1317 617.17) scale(0.9850 1)" font-size="16.4" text-anchor="end" fill="#141414" stroke="#141414" stroke-width="0.2">CD274_56</text><text transform="translate(977 117.3) rotate(-45) scale(0.9800 1)" font-size="16.4" fill="#141414" stroke="#141414" stroke-width="0.2">PD.L1Score</text><text transform="translate(1117.8 117.3) rotate(-45) scale(0.9800 1)" font-size="16.4" fill="#141414" stroke="#141414" stroke-width="0.2">CD274_12</text><text transform="translate(1258.6 117.3) rotate(-45) scale(0.9800 1)" font-size="16.4" fill="#141414" stroke="#141414" stroke-width="0.2">CD274_34</text><text transform="translate(1399.4 117.3) rotate(-45) scale(0.9800 1)" font-size="16.4" fill="#141414" stroke="#141414" stroke-width="0.2">CD274_56</text><defs><linearGradient id="cb" x1="0" y1="0" x2="0" y2="1"><stop offset="0%" stop-color="#1c3260"/><stop offset="2%" stop-color="#163c6f"/><stop offset="4%" stop-color="#15477e"/><stop offset="6%" stop-color="#16518e"/><stop offset="8%" stop-color="#1b5c9d"/><stop offset="10%" stop-color="#2166AC"/><stop offset="20%" stop-color="#4393C3"/><stop offset="30%" stop-color="#92C5DE"/><stop offset="40%" stop-color="#D1E5F0"/><stop offset="50%" stop-color="#FFFFFF"/><stop offset="60%" stop-color="#FDDBC7"/><stop offset="70%" stop-color="#F4A582"/><stop offset="80%" stop-color="#D6604D"/><stop offset="90%" stop-color="#B2182B"/><stop offset="100%" stop-color="#67001F"/></linearGradient></defs><rect x="1474.1" y="119.5" width="17.1" height="563.2" fill="url(#cb)" stroke="#333338" stroke-width="1.35"/><path d="M1491.2 119.5h3.9M1491.2 175.82h3.9M1491.2 232.14h3.9M1491.2 288.46h3.9M1491.2 344.78h3.9M1491.2 401.1h3.9M1491.2 457.42h3.9M1491.2 513.74h3.9M1491.2 570.06h3.9M1491.2 626.38h3.9M1491.2 682.7h3.9" stroke="#2a2a30" stroke-width="1.5" fill="none"/><text transform="translate(1511.3 125.12) scale(0.9000 1)" font-size="14.3" text-anchor="middle" fill="#14141c" stroke="#14141c" stroke-width="0.3">1</text><text transform="translate(1511.3 181.44) scale(0.9000 1)" font-size="14.3" text-anchor="middle" fill="#14141c" stroke="#14141c" stroke-width="0.3">0.8</text><text transform="translate(1511.3 237.76) scale(0.9000 1)" font-size="14.3" text-anchor="middle" fill="#14141c" stroke="#14141c" stroke-width="0.3">0.6</text><text transform="translate(1511.3 294.08) scale(0.9000 1)" font-size="14.3" text-anchor="middle" fill="#14141c" stroke="#14141c" stroke-width="0.3">0.4</text><text transform="translate(1511.3 350.4) scale(0.9000 1)" font-size="14.3" text-anchor="middle" fill="#14141c" stroke="#14141c" stroke-width="0.3">0.2</text><text transform="translate(1511.3 406.72) scale(0.9000 1)" font-size="14.3" text-anchor="middle" fill="#14141c" stroke="#14141c" stroke-width="0.3">0</text><text transform="translate(1510.1 463.04) scale(0.9000 1)" font-size="14.3" text-anchor="middle" fill="#14141c" stroke="#14141c" stroke-width="0.3">-0.2</text><text transform="translate(1510.1 519.36) scale(0.9000 1)" font-size="14.3" text-anchor="middle" fill="#14141c" stroke="#14141c" stroke-width="0.3">-0.4</text><text transform="translate(1510.1 575.68) scale(0.9000 1)" font-size="14.3" text-anchor="middle" fill="#14141c" stroke="#14141c" stroke-width="0.3">-0.6</text><text transform="translate(1510.1 632) scale(0.9000 1)" font-size="14.3" text-anchor="middle" fill="#14141c" stroke="#14141c" stroke-width="0.3">-0.8</text><text transform="translate(1510.1 688.32) scale(0.9000 1)" font-size="14.3" text-anchor="middle" fill="#14141c" stroke="#14141c" stroke-width="0.3">-1</text></g>
<!-- panel B -->
<g><text x="0" y="813.8" font-size="29.8" font-weight="bold" fill="#060606" stroke="#060606" stroke-width="0.35">B</text><clipPath id="c17"><rect x="59.1" y="826.45" width="161.7" height="161.7"/></clipPath><g clip-path="url(#c17)"><rect x="65.29" y="880.35" width="15.18" height="107.8" fill="#bebebe" stroke="#111" stroke-width="1.1"/><rect x="80.47" y="971.44" width="16.01" height="16.71" fill="#bebebe" stroke="#111" stroke-width="1.1"/><rect x="96.48" y="985.46" width="15.69" height="2.7" fill="#bebebe" stroke="#111" stroke-width="1.1"/><rect x="174.95" y="983.3" width="15.69" height="4.85" fill="#bebebe" stroke="#111" stroke-width="1.1"/><rect x="190.64" y="985.78" width="15.69" height="2.37" fill="#bebebe" stroke="#111" stroke-width="1.1"/><rect x="206.34" y="984.92" width="15.69" height="3.23" fill="#bebebe" stroke="#111" stroke-width="1.1"/><polyline points="59.1,944.45 60.4,922.45 61.9,898.45 63.5,884.45 64.9,880.45 66.3,883.45 68.1,900.45 71.1,934.45 74.1,958.45 76.6,968.45 79.6,972.95 83.1,975.45 86.1,978.95 89.1,980.95 93.1,982.05 97.1,984.05 104.1,986.25 111.1,987.45 119.1,987.75 169.1,987.75 179.1,987.05 185.1,984.25 188.1,982.05 191.1,981.85 194.1,983.95 198.1,985.25 203.1,984.85 208.1,984.05 212.1,983.65 217.1,984.45 221.1,984.85" fill="none" stroke="#0c0c0c" stroke-width="1.2" stroke-linejoin="round"/><path d="M65.72 988.15v-4.6M66.97 988.15v-4.6M68.23 988.15v-4.6M69.8 988.15v-4.6M71.37 988.15v-4.6M72.94 988.15v-4.6M77.64 988.15v-4.6M80.78 988.15v-4.6M83.14 988.15v-4.6M85.49 988.15v-4.6M88.63 988.15v-4.6M96.48 988.15v-4.6M104.32 988.15v-4.6M190.64 988.15v-4.6M206.34 988.15v-4.6M214.5 988.15v-4.6" stroke="#0c0c0c" stroke-width="1.15" fill="none"/><text transform="translate(70.9 861.2) scale(0.9650 1)" font-size="26.3" fill="#0b0b0b" stroke="#0b0b0b" stroke-width="0.25">PD.L1</text></g><rect x="59.1" y="826.45" width="161.7" height="161.7" fill="none" stroke="#1c1c1c" stroke-width="1.4" stroke-linejoin="round"/><clipPath id="c18"><rect x="232.95" y="826.45" width="161.7" height="161.7"/></clipPath><g clip-path="url(#c18)"><text transform="translate(314.37 925.2) scale(0.9943 1)" font-size="48.38" text-anchor="middle" fill="#050505" stroke="#050505" stroke-width="0.55" stroke-linejoin="round">0.81</text></g><rect x="232.95" y="826.45" width="161.7" height="161.7" fill="none" stroke="#1c1c1c" stroke-width="1.4" stroke-linejoin="round"/><clipPath id="c19"><rect x="407.25" y="826.45" width="161.7" height="161.7"/></clipPath><g clip-path="url(#c19)"><text transform="translate(488.22 921.87) scale(0.9995 1)" font-size="38.4" text-anchor="middle" fill="#050505" stroke="#050505" stroke-width="0.55" stroke-linejoin="round">0.67</text></g><rect x="407.25" y="826.45" width="161.7" height="161.7" fill="none" stroke="#1c1c1c" stroke-width="1.4" stroke-linejoin="round"/><clipPath id="c20"><rect x="581.4" y="826.45" width="161.7" height="161.7"/></clipPath><g clip-path="url(#c20)"><text transform="translate(661.53 920.88) scale(0.9649 1)" font-size="35.83" text-anchor="middle" fill="#050505" stroke="#050505" stroke-width="0.55" stroke-linejoin="round">0.62</text></g><rect x="581.4" y="826.45" width="161.7" height="161.7" fill="none" stroke="#1c1c1c" stroke-width="1.4" stroke-linejoin="round"/><clipPath id="c21"><rect x="59.1" y="1000.3" width="161.7" height="161.7"/></clipPath><g clip-path="url(#c21)"><polygon points="111.45,1128.7 109.9,1128.02 107.89,1127.67 105.44,1127.66 102.59,1127.98 99.37,1128.63 95.85,1129.6 92.07,1130.88 88.09,1132.45 83.97,1134.27 79.77,1136.34 75.56,1138.6 71.4,1141.04 67.36,1143.61 63.49,1146.27 59.85,1148.98 56.5,1151.71 53.49,1154.41 50.87,1157.04 48.67,1159.55 46.93,1161.92 45.68,1164.11 44.92,1166.08 44.69,1167.8 44.97,1169.25 45.76,1170.4 47.06,1171.24 48.84,1171.76 51.08,1171.94 53.74,1171.79 56.78,1171.3 60.15,1170.49 63.81,1169.36 67.7,1167.94 71.76,1166.24 75.92,1164.29 80.14,1162.12 84.33,1159.77 88.44,1157.26 92.4,1154.64 96.16,1151.94 99.66,1149.22 102.85,1146.5 105.67,1143.83 108.08,1141.25 110.06,1138.81 111.56,1136.52 112.56,1134.44 113.06,1132.59 113.04,1131.01 112.5,1129.7" fill="none" stroke="#141414" stroke-width="1.15" stroke-linejoin="round"/><g fill="#111"><circle cx="214.81" cy="1006.29" r="1.45"/><circle cx="190.64" cy="1124.03" r="1.45"/><circle cx="190.64" cy="1096.84" r="1.45"/><circle cx="206.34" cy="1120.08" r="1.45"/><circle cx="82.35" cy="1130.62" r="1.45"/><circle cx="104.32" cy="1152.54" r="1.45"/><circle cx="96.48" cy="1151.22" r="1.45"/><circle cx="71.37" cy="1153.02" r="1.45"/><circle cx="68.23" cy="1154.21" r="1.45"/><circle cx="65.09" cy="1151.34" r="1.45"/><circle cx="66.66" cy="1154.21" r="1.45"/><circle cx="68.23" cy="1155.71" r="1.45"/><circle cx="69.8" cy="1156.01" r="1.45"/><circle cx="65.09" cy="1154.33" r="1.45"/><circle cx="66.66" cy="1152.96" r="1.45"/><circle cx="68.23" cy="1152.18" r="1.45"/><circle cx="72.94" cy="1154.09" r="1.45"/><circle cx="80.78" cy="1154.57" r="1.45"/><circle cx="83.92" cy="1154.21" r="1.45"/><circle cx="65.09" cy="1153.38" r="1.45"/><circle cx="66.66" cy="1156.01" r="1.45"/><circle cx="77.64" cy="1155.35" r="1.45"/><circle cx="88.63" cy="1153.08" r="1.45"/><circle cx="80.78" cy="1152.78" r="1.45"/><circle cx="69.8" cy="1154.03" r="1.45"/><circle cx="65.09" cy="1155.71" r="1.45"/><circle cx="66.66" cy="1156.01" r="1.45"/><circle cx="68.23" cy="1152.3" r="1.45"/><circle cx="69.8" cy="1153.5" r="1.45"/><circle cx="65.09" cy="1155.77" r="1.45"/><circle cx="66.66" cy="1151.28" r="1.45"/><circle cx="68.23" cy="1154.69" r="1.45"/><circle cx="72.94" cy="1155.53" r="1.45"/><circle cx="80.78" cy="1155.05" r="1.45"/><circle cx="83.92" cy="1153.74" r="1.45"/></g><polyline points="65.1,1154.3 79.1,1154.9 86.1,1155.3 96.1,1154.9 104.6,1151.8 215,1083.6" fill="none" stroke="#cc2a2a" stroke-width="1.15" stroke-linejoin="round"/><circle cx="78.9" cy="1149.78" r="3.6" fill="#e21f26"/></g><rect x="59.1" y="1000.3" width="161.7" height="161.7" fill="none" stroke="#1c1c1c" stroke-width="1.4" stroke-linejoin="round"/><clipPath id="c22"><rect x="232.95" y="1000.3" width="161.7" height="161.7"/></clipPath><g clip-path="url(#c22)"><rect x="238.94" y="1054.2" width="29.94" height="107.8" fill="#bebebe" stroke="#111" stroke-width="1.1"/><rect x="268.88" y="1156.07" width="29.94" height="5.93" fill="#bebebe" stroke="#111" stroke-width="1.1"/><rect x="358.72" y="1159.84" width="29.94" height="2.16" fill="#bebebe" stroke="#111" stroke-width="1.1"/><polyline points="235.65,1162 237.35,1127.2 238.45,1089.5 239.75,1062.9 240.15,1054.6 240.95,1084 243.35,1120.5 245.65,1153.7 247.25,1160.4 252.95,1160.9 260.45,1160.7 261.45,1160.8 262.77,1159.25 263.85,1156.9 264.93,1159.25 266.25,1160.8 268.95,1160.9 269.85,1160.9 270.84,1160 271.65,1158.3 272.46,1160 273.45,1160.9 275.95,1160.9 278.95,1158.7 282.95,1161.1 292.95,1161.1 296.95,1158.7 298.95,1161.1 302.95,1161.5 360.95,1161.5 382.95,1160.9 386.05,1160.9 387.37,1159.3 388.45,1156.9 389.53,1159.3 390.85,1160.9 394.65,1161.3" fill="none" stroke="#0c0c0c" stroke-width="1.2" stroke-linejoin="round"/><path d="M264.33 1162v-4.6M270.92 1162v-4.6M274.87 1162v-4.6M298.11 1162v-4.6M388.66 1162v-4.6" stroke="#0c0c0c" stroke-width="1.15" fill="none"/><rect x="239.55" y="1156.5" width="3.8" height="5.5" fill="#111"/><text transform="translate(313.8 1035.45) scale(0.9650 1)" font-size="26.3" text-anchor="middle" fill="#0b0b0b" stroke="#0b0b0b" stroke-width="0.25">CD274_12</text></g><rect x="232.95" y="1000.3" width="161.7" height="161.7" fill="none" stroke="#1c1c1c" stroke-width="1.4" stroke-linejoin="round"/><clipPath id="c23"><rect x="407.25" y="1000.3" width="161.7" height="161.7"/></clipPath><g clip-path="url(#c23)"><text transform="translate(487.37 1101.16) scale(0.9717 1)" font-size="53.53" text-anchor="middle" fill="#050505" stroke="#050505" stroke-width="0.55" stroke-linejoin="round">0.94</text></g><rect x="407.25" y="1000.3" width="161.7" height="161.7" fill="none" stroke="#1c1c1c" stroke-width="1.4" stroke-linejoin="round"/><clipPath id="c24"><rect x="581.4" y="1000.3" width="161.7" height="161.7"/></clipPath><g clip-path="url(#c24)"><text transform="translate(662.75 1100.77) scale(1.0166 1)" font-size="52.96" text-anchor="middle" fill="#050505" stroke="#050505" stroke-width="0.55" stroke-linejoin="round">0.91</text></g><rect x="581.4" y="1000.3" width="161.7" height="161.7" fill="none" stroke="#1c1c1c" stroke-width="1.4" stroke-linejoin="round"/><clipPath id="c25"><rect x="59.1" y="1174.95" width="161.7" height="161.7"/></clipPath><g clip-path="url(#c25)"><polygon points="110.16,1307.47 108.22,1306.64 105.83,1306.09 103.03,1305.83 99.87,1305.86 96.39,1306.18 92.64,1306.79 88.69,1307.67 84.58,1308.82 80.39,1310.22 76.18,1311.83 72.01,1313.65 67.95,1315.64 64.05,1317.78 60.37,1320.02 56.98,1322.34 53.92,1324.7 51.23,1327.07 48.97,1329.41 47.16,1331.68 45.83,1333.85 45,1335.88 44.69,1337.76 44.89,1339.43 45.61,1340.9 46.84,1342.12 48.55,1343.08 50.72,1343.77 53.32,1344.17 56.31,1344.29 59.64,1344.11 63.26,1343.65 67.11,1342.9 71.15,1341.88 75.3,1340.61 79.51,1339.1 83.71,1337.38 87.84,1335.47 91.83,1333.4 95.62,1331.21 99.16,1328.92 102.4,1326.58 105.28,1324.21 107.75,1321.85 109.79,1319.54 111.37,1317.32 112.45,1315.21 113.02,1313.26 113.07,1311.48 112.61,1309.9 111.63,1308.56" fill="none" stroke="#141414" stroke-width="1.15" stroke-linejoin="round"/><g fill="#111"><circle cx="214.81" cy="1180.94" r="1.45"/><circle cx="190.64" cy="1291.78" r="1.45"/><circle cx="190.64" cy="1321.04" r="1.45"/><circle cx="206.34" cy="1319.84" r="1.45"/><circle cx="82.35" cy="1313.22" r="1.45"/><circle cx="104.32" cy="1328.36" r="1.45"/><circle cx="96.48" cy="1327.05" r="1.45"/><circle cx="71.37" cy="1322.24" r="1.45"/><circle cx="68.23" cy="1323.65" r="1.45"/><circle cx="65.09" cy="1325.97" r="1.45"/><circle cx="66.66" cy="1328.8" r="1.45"/><circle cx="68.23" cy="1330.42" r="1.45"/><circle cx="69.8" cy="1330.64" r="1.45"/><circle cx="65.09" cy="1329.36" r="1.45"/><circle cx="66.66" cy="1327.51" r="1.45"/><circle cx="68.23" cy="1325.95" r="1.45"/><circle cx="72.94" cy="1329.16" r="1.45"/><circle cx="80.78" cy="1329.32" r="1.45"/><circle cx="83.92" cy="1329.04" r="1.45"/><circle cx="65.09" cy="1328.4" r="1.45"/><circle cx="66.66" cy="1330.64" r="1.45"/><circle cx="77.64" cy="1330.04" r="1.45"/><circle cx="88.63" cy="1328.3" r="1.45"/><circle cx="80.78" cy="1327.19" r="1.45"/><circle cx="69.8" cy="1328.96" r="1.45"/><circle cx="65.09" cy="1330.5" r="1.45"/><circle cx="66.66" cy="1330.64" r="1.45"/><circle cx="68.23" cy="1327.61" r="1.45"/><circle cx="69.8" cy="1327.17" r="1.45"/><circle cx="65.09" cy="1330.36" r="1.45"/><circle cx="66.66" cy="1327.59" r="1.45"/><circle cx="68.23" cy="1329.1" r="1.45"/><circle cx="72.94" cy="1330.06" r="1.45"/><circle cx="80.78" cy="1329.74" r="1.45"/><circle cx="83.92" cy="1328.06" r="1.45"/></g><polyline points="65.1,1329.95 89.1,1330.35 104.1,1328.75 215,1318.85" fill="none" stroke="#cc2a2a" stroke-width="1.15" stroke-linejoin="round"/><circle cx="78.9" cy="1325.05" r="3.6" fill="#e21f26"/></g><rect x="59.1" y="1174.95" width="161.7" height="161.7" fill="none" stroke="#1c1c1c" stroke-width="1.4" stroke-linejoin="round"/><clipPath id="c26"><rect x="232.95" y="1174.95" width="161.7" height="161.7"/></clipPath><g clip-path="url(#c26)"><polygon points="266.99,1306.1 266.35,1305.83 265.4,1305.86 264.13,1306.17 262.58,1306.78 260.76,1307.66 258.71,1308.8 256.45,1310.19 254.02,1311.8 251.46,1313.62 248.8,1315.61 246.09,1317.74 243.36,1319.98 240.66,1322.3 238.03,1324.66 235.5,1327.03 233.13,1329.37 230.93,1331.64 228.95,1333.81 227.22,1335.85 225.76,1337.72 224.59,1339.41 223.74,1340.87 223.21,1342.1 223.01,1343.06 223.15,1343.76 223.62,1344.17 224.42,1344.29 225.53,1344.12 226.95,1343.66 228.63,1342.92 230.57,1341.9 232.73,1340.63 235.08,1339.13 237.58,1337.41 240.2,1335.5 242.89,1333.44 245.61,1331.25 248.33,1328.96 251,1326.62 253.59,1324.25 256.04,1321.89 258.33,1319.59 260.42,1317.36 262.28,1315.25 263.88,1313.29 265.2,1311.51 266.21,1309.93 266.9,1308.58 267.27,1307.48 267.3,1306.65" fill="none" stroke="#141414" stroke-width="1.15" stroke-linejoin="round"/><g fill="#111"><circle cx="388.66" cy="1180.94" r="1.45"/><circle cx="270.92" cy="1291.78" r="1.45"/><circle cx="298.11" cy="1321.04" r="1.45"/><circle cx="274.87" cy="1319.84" r="1.45"/><circle cx="264.33" cy="1313.22" r="1.45"/><circle cx="242.41" cy="1328.36" r="1.45"/><circle cx="243.73" cy="1327.05" r="1.45"/><circle cx="241.93" cy="1322.24" r="1.45"/><circle cx="240.74" cy="1323.65" r="1.45"/><circle cx="243.61" cy="1325.97" r="1.45"/><circle cx="240.74" cy="1328.8" r="1.45"/><circle cx="239.24" cy="1330.42" r="1.45"/><circle cx="238.94" cy="1330.64" r="1.45"/><circle cx="240.62" cy="1329.36" r="1.45"/><circle cx="241.99" cy="1327.51" r="1.45"/><circle cx="242.77" cy="1325.95" r="1.45"/><circle cx="240.86" cy="1329.16" r="1.45"/><circle cx="240.38" cy="1329.32" r="1.45"/><circle cx="240.74" cy="1329.04" r="1.45"/><circle cx="241.57" cy="1328.4" r="1.45"/><circle cx="238.94" cy="1330.64" r="1.45"/><circle cx="239.6" cy="1330.04" r="1.45"/><circle cx="241.87" cy="1328.3" r="1.45"/><circle cx="242.17" cy="1327.19" r="1.45"/><circle cx="240.92" cy="1328.96" r="1.45"/><circle cx="239.24" cy="1330.5" r="1.45"/><circle cx="238.94" cy="1330.64" r="1.45"/><circle cx="242.65" cy="1327.61" r="1.45"/><circle cx="241.45" cy="1327.17" r="1.45"/><circle cx="239.18" cy="1330.36" r="1.45"/><circle cx="243.67" cy="1327.59" r="1.45"/><circle cx="240.26" cy="1329.1" r="1.45"/><circle cx="239.42" cy="1330.06" r="1.45"/><circle cx="239.9" cy="1329.74" r="1.45"/><circle cx="241.21" cy="1328.06" r="1.45"/></g><polyline points="238.95,1330.95 244.95,1327.95 254.95,1323.95 266.95,1321.45 277.95,1320.45 297.95,1318.45 388.95,1187.95" fill="none" stroke="#cc2a2a" stroke-width="1.15" stroke-linejoin="round"/><circle cx="245.17" cy="1325.05" r="3.6" fill="#e21f26"/></g><rect x="232.95" y="1174.95" width="161.7" height="161.7" fill="none" stroke="#1c1c1c" stroke-width="1.4" stroke-linejoin="round"/><clipPath id="c27"><rect x="407.25" y="1174.95" width="161.7" height="161.7"/></clipPath><g clip-path="url(#c27)"><rect x="413.24" y="1228.85" width="20.04" height="107.8" fill="#bebebe" stroke="#111" stroke-width="1.1"/><rect x="433.28" y="1334.49" width="20.04" height="2.16" fill="#bebebe" stroke="#111" stroke-width="1.1"/><rect x="553.54" y="1334.49" width="20.04" height="2.16" fill="#bebebe" stroke="#111" stroke-width="1.1"/><polyline points="410.15,1336.35 411.85,1314.85 412.75,1271.65 414.05,1238.35 414.65,1229.35 415.15,1238.35 416.55,1264.95 418.55,1322.55 419.65,1332.55 421.25,1334.95 427.25,1335.55 449.25,1335.75 450.05,1335.75 451.48,1334.35 452.65,1332.15 453.82,1334.35 455.25,1335.75 459.25,1336.15 547.25,1336.25 557.25,1335.55 560.45,1335.55 561.88,1334.25 563.05,1332.15 564.22,1334.25 565.65,1335.55 568.95,1335.95" fill="none" stroke="#0c0c0c" stroke-width="1.2" stroke-linejoin="round"/><path d="M430.68 1336.65v-4.6M421.66 1336.65v-4.6M452.12 1336.65v-4.6M562.96 1336.65v-4.6M431.68 1336.65v-4.6M433.68 1336.65v-4.6" stroke="#0c0c0c" stroke-width="1.15" fill="none"/><rect x="420.75" y="1331.35" width="3.8" height="5.3" fill="none" stroke="#111" stroke-width="1"/><rect x="413.55" y="1331.75" width="3.9" height="4.9" fill="#111"/><text transform="translate(488.1 1210.1) scale(0.9650 1)" font-size="26.3" text-anchor="middle" fill="#0b0b0b" stroke="#0b0b0b" stroke-width="0.25">CD274_34</text></g><rect x="407.25" y="1174.95" width="161.7" height="161.7" fill="none" stroke="#1c1c1c" stroke-width="1.4" stroke-linejoin="round"/><clipPath id="c28"><rect x="581.4" y="1174.95" width="161.7" height="161.7"/></clipPath><g clip-path="url(#c28)"><text transform="translate(661.5 1275.82) scale(1.0207 1)" font-size="54.97" text-anchor="middle" fill="#050505" stroke="#050505" stroke-width="0.55" stroke-linejoin="round">0.99</text></g><rect x="581.4" y="1174.95" width="161.7" height="161.7" fill="none" stroke="#1c1c1c" stroke-width="1.4" stroke-linejoin="round"/><clipPath id="c29"><rect x="59.1" y="1349.05" width="161.7" height="161.7"/></clipPath><g clip-path="url(#c29)"><polygon points="109.69,1483.29 107.63,1482.35 105.12,1481.7 102.23,1481.35 98.97,1481.3 95.42,1481.55 91.61,1482.11 87.61,1482.95 83.48,1484.08 79.28,1485.47 75.07,1487.09 70.92,1488.94 66.89,1490.97 63.05,1493.16 59.44,1495.48 56.13,1497.88 53.16,1500.33 50.59,1502.8 48.44,1505.25 46.76,1507.64 45.56,1509.94 44.87,1512.1 44.69,1514.1 45.04,1515.91 45.89,1517.5 47.25,1518.84 49.08,1519.92 51.37,1520.71 54.08,1521.21 57.16,1521.42 60.57,1521.31 64.26,1520.91 68.17,1520.2 72.24,1519.22 76.42,1517.96 80.63,1516.45 84.82,1514.71 88.91,1512.76 92.86,1510.65 96.59,1508.39 100.06,1506.03 103.2,1503.6 105.97,1501.13 108.34,1498.66 110.26,1496.24 111.7,1493.89 112.65,1491.66 113.08,1489.57 113,1487.67 112.4,1485.97 111.29,1484.5" fill="none" stroke="#141414" stroke-width="1.15" stroke-linejoin="round"/><g fill="#111"><circle cx="214.81" cy="1355.04" r="1.45"/><circle cx="190.64" cy="1471.44" r="1.45"/><circle cx="190.64" cy="1504.76" r="1.45"/><circle cx="206.34" cy="1498.42" r="1.45"/><circle cx="82.35" cy="1497.13" r="1.45"/><circle cx="104.32" cy="1502.35" r="1.45"/><circle cx="96.48" cy="1503.16" r="1.45"/><circle cx="71.37" cy="1501.55" r="1.45"/><circle cx="68.23" cy="1502.35" r="1.45"/><circle cx="65.09" cy="1502.83" r="1.45"/><circle cx="66.66" cy="1503.8" r="1.45"/><circle cx="68.23" cy="1504.56" r="1.45"/><circle cx="69.8" cy="1504.76" r="1.45"/><circle cx="65.09" cy="1504.04" r="1.45"/><circle cx="66.66" cy="1502.55" r="1.45"/><circle cx="68.23" cy="1502.15" r="1.45"/><circle cx="72.94" cy="1503.88" r="1.45"/><circle cx="80.78" cy="1503.88" r="1.45"/><circle cx="83.92" cy="1503.44" r="1.45"/><circle cx="65.09" cy="1503.16" r="1.45"/><circle cx="66.66" cy="1504.72" r="1.45"/><circle cx="77.64" cy="1504.32" r="1.45"/><circle cx="88.63" cy="1503.28" r="1.45"/><circle cx="80.78" cy="1503.08" r="1.45"/><circle cx="69.8" cy="1503.28" r="1.45"/><circle cx="65.09" cy="1504.6" r="1.45"/><circle cx="66.66" cy="1504.76" r="1.45"/><circle cx="68.23" cy="1501.95" r="1.45"/><circle cx="69.8" cy="1503.04" r="1.45"/><circle cx="65.09" cy="1504.6" r="1.45"/><circle cx="66.66" cy="1502.79" r="1.45"/><circle cx="68.23" cy="1503.44" r="1.45"/><circle cx="72.94" cy="1504.44" r="1.45"/><circle cx="80.78" cy="1504.08" r="1.45"/><circle cx="83.92" cy="1502.75" r="1.45"/></g><polyline points="65.1,1505.85 89.1,1505.65 104.1,1502.55 215,1491.05" fill="none" stroke="#cc2a2a" stroke-width="1.15" stroke-linejoin="round"/><circle cx="78.9" cy="1501.35" r="3.6" fill="#e21f26"/></g><rect x="59.1" y="1349.05" width="161.7" height="161.7" fill="none" stroke="#1c1c1c" stroke-width="1.4" stroke-linejoin="round"/><clipPath id="c30"><rect x="232.95" y="1349.05" width="161.7" height="161.7"/></clipPath><g clip-path="url(#c30)"><polygon points="266.82,1481.74 266.08,1481.36 265.02,1481.29 263.66,1481.52 262.02,1482.06 260.13,1482.88 258,1483.99 255.69,1485.36 253.21,1486.97 250.61,1488.8 247.93,1490.82 245.21,1492.99 242.48,1495.3 239.8,1497.7 237.2,1500.15 234.72,1502.62 232.4,1505.07 230.27,1507.47 228.37,1509.77 226.72,1511.95 225.35,1513.96 224.28,1515.78 223.53,1517.39 223.11,1518.75 223.02,1519.85 223.26,1520.66 223.84,1521.19 224.75,1521.41 225.96,1521.33 227.46,1520.95 229.23,1520.27 231.24,1519.3 233.47,1518.06 235.87,1516.57 238.41,1514.84 241.06,1512.91 243.76,1510.81 246.49,1508.56 249.2,1506.21 251.85,1503.78 254.39,1501.31 256.8,1498.85 259.03,1496.42 261.05,1494.06 262.83,1491.82 264.34,1489.72 265.56,1487.8 266.47,1486.08 267.06,1484.6 267.31,1483.37 267.24,1482.41" fill="none" stroke="#141414" stroke-width="1.15" stroke-linejoin="round"/><g fill="#111"><circle cx="388.66" cy="1355.04" r="1.45"/><circle cx="270.92" cy="1471.44" r="1.45"/><circle cx="298.11" cy="1504.76" r="1.45"/><circle cx="274.87" cy="1498.42" r="1.45"/><circle cx="264.33" cy="1497.13" r="1.45"/><circle cx="242.41" cy="1502.35" r="1.45"/><circle cx="243.73" cy="1503.16" r="1.45"/><circle cx="241.93" cy="1501.55" r="1.45"/><circle cx="240.74" cy="1502.35" r="1.45"/><circle cx="243.61" cy="1502.83" r="1.45"/><circle cx="240.74" cy="1503.8" r="1.45"/><circle cx="239.24" cy="1504.56" r="1.45"/><circle cx="238.94" cy="1504.76" r="1.45"/><circle cx="240.62" cy="1504.04" r="1.45"/><circle cx="241.99" cy="1502.55" r="1.45"/><circle cx="242.77" cy="1502.15" r="1.45"/><circle cx="240.86" cy="1503.88" r="1.45"/><circle cx="240.38" cy="1503.88" r="1.45"/><circle cx="240.74" cy="1503.44" r="1.45"/><circle cx="241.57" cy="1503.16" r="1.45"/><circle cx="238.94" cy="1504.72" r="1.45"/><circle cx="239.6" cy="1504.32" r="1.45"/><circle cx="241.87" cy="1503.28" r="1.45"/><circle cx="242.17" cy="1503.08" r="1.45"/><circle cx="240.92" cy="1503.28" r="1.45"/><circle cx="239.24" cy="1504.6" r="1.45"/><circle cx="238.94" cy="1504.76" r="1.45"/><circle cx="242.65" cy="1501.95" r="1.45"/><circle cx="241.45" cy="1503.04" r="1.45"/><circle cx="239.18" cy="1504.6" r="1.45"/><circle cx="243.67" cy="1502.79" r="1.45"/><circle cx="240.26" cy="1503.44" r="1.45"/><circle cx="239.42" cy="1504.44" r="1.45"/><circle cx="239.9" cy="1504.08" r="1.45"/><circle cx="241.21" cy="1502.75" r="1.45"/></g><polyline points="238.95,1504.55 246.95,1501.55 254.95,1501.05 260.95,1501.25 270.95,1504.55 297.95,1504.85 312.95,1505.85 342.95,1506.25 343.95,1507.25 372.95,1507.55 373.95,1508.35 388.95,1508.45" fill="none" stroke="#cc2a2a" stroke-width="1.15" stroke-linejoin="round"/><circle cx="245.17" cy="1501.35" r="3.6" fill="#e21f26"/></g><rect x="232.95" y="1349.05" width="161.7" height="161.7" fill="none" stroke="#1c1c1c" stroke-width="1.4" stroke-linejoin="round"/><clipPath id="c31"><rect x="407.25" y="1349.05" width="161.7" height="161.7"/></clipPath><g clip-path="url(#c31)"><polygon points="438.04,1481.33 437.73,1481.31 437.13,1481.59 436.26,1482.17 435.12,1483.04 433.73,1484.19 432.12,1485.6 430.31,1487.25 428.32,1489.11 426.19,1491.16 423.95,1493.36 421.63,1495.68 419.27,1498.09 416.9,1500.55 414.56,1503.02 412.29,1505.46 410.12,1507.85 408.08,1510.13 406.2,1512.28 404.51,1514.27 403.04,1516.06 401.82,1517.62 400.85,1518.94 400.15,1520 399.73,1520.77 399.61,1521.24 399.78,1521.42 400.23,1521.29 400.97,1520.86 401.98,1520.13 403.25,1519.12 404.75,1517.84 406.47,1516.3 408.37,1514.55 410.43,1512.59 412.62,1510.46 414.91,1508.19 417.25,1505.82 419.62,1503.38 421.98,1500.92 424.29,1498.45 426.51,1496.03 428.62,1493.7 430.59,1491.47 432.37,1489.4 433.95,1487.51 435.3,1485.83 436.4,1484.38 437.24,1483.19 437.8,1482.28 438.07,1481.66" fill="none" stroke="#141414" stroke-width="1.15" stroke-linejoin="round"/><g fill="#111"><circle cx="562.96" cy="1355.04" r="1.45"/><circle cx="452.12" cy="1471.44" r="1.45"/><circle cx="422.86" cy="1504.76" r="1.45"/><circle cx="424.06" cy="1498.42" r="1.45"/><circle cx="430.68" cy="1497.13" r="1.45"/><circle cx="415.54" cy="1502.35" r="1.45"/><circle cx="416.85" cy="1503.16" r="1.45"/><circle cx="421.66" cy="1501.55" r="1.45"/><circle cx="420.25" cy="1502.35" r="1.45"/><circle cx="417.93" cy="1502.83" r="1.45"/><circle cx="415.1" cy="1503.8" r="1.45"/><circle cx="413.48" cy="1504.56" r="1.45"/><circle cx="413.26" cy="1504.76" r="1.45"/><circle cx="414.54" cy="1504.04" r="1.45"/><circle cx="416.39" cy="1502.55" r="1.45"/><circle cx="417.95" cy="1502.15" r="1.45"/><circle cx="414.74" cy="1503.88" r="1.45"/><circle cx="414.58" cy="1503.88" r="1.45"/><circle cx="414.86" cy="1503.44" r="1.45"/><circle cx="415.5" cy="1503.16" r="1.45"/><circle cx="413.26" cy="1504.72" r="1.45"/><circle cx="413.86" cy="1504.32" r="1.45"/><circle cx="415.6" cy="1503.28" r="1.45"/><circle cx="416.71" cy="1503.08" r="1.45"/><circle cx="414.94" cy="1503.28" r="1.45"/><circle cx="413.4" cy="1504.6" r="1.45"/><circle cx="413.26" cy="1504.76" r="1.45"/><circle cx="416.29" cy="1501.95" r="1.45"/><circle cx="416.73" cy="1503.04" r="1.45"/><circle cx="413.54" cy="1504.6" r="1.45"/><circle cx="416.31" cy="1502.79" r="1.45"/><circle cx="414.8" cy="1503.44" r="1.45"/><circle cx="413.84" cy="1504.44" r="1.45"/><circle cx="414.16" cy="1504.08" r="1.45"/><circle cx="415.84" cy="1502.75" r="1.45"/></g><polyline points="414.25,1504.05 418.75,1501.05 431.35,1496.95 452.55,1470.75 465.55,1458.55 514.55,1407.55 563.15,1355.15" fill="none" stroke="#cc2a2a" stroke-width="1.15" stroke-linejoin="round"/><circle cx="418.85" cy="1501.35" r="3.6" fill="#e21f26"/></g><rect x="407.25" y="1349.05" width="161.7" height="161.7" fill="none" stroke="#1c1c1c" stroke-width="1.4" stroke-linejoin="round"/><clipPath id="c32"><rect x="581.4" y="1349.05" width="161.7" height="161.7"/></clipPath><g clip-path="url(#c32)"><rect x="587.39" y="1402.95" width="21.27" height="107.8" fill="#bebebe" stroke="#111" stroke-width="1.1"/><rect x="608.66" y="1508.59" width="18.87" height="2.16" fill="#bebebe" stroke="#111" stroke-width="1.1"/><rect x="727.88" y="1508.59" width="20.07" height="2.16" fill="#bebebe" stroke="#111" stroke-width="1.1"/><polyline points="586.4,1510.35 586.6,1464.35 588.1,1412.35 588.5,1403.25 589,1412.35 590.1,1442.25 591.4,1479.85 592.5,1503.15 593.6,1507.55 593.8,1509.45 594.9,1508.25 595.8,1506.25 596.7,1508.25 597.8,1509.45 601.4,1509.65 617.4,1509.85 619.1,1509.85 620.31,1508.75 621.3,1506.85 622.29,1508.75 623.5,1509.85 631.4,1510.25 721.4,1510.35 731.4,1509.65 734.8,1509.65 736.01,1508.55 737,1506.65 737.99,1508.55 739.2,1509.65 743.1,1510.05" fill="none" stroke="#0c0c0c" stroke-width="1.2" stroke-linejoin="round"/><path d="M620.71 1510.75v-4.6M737.11 1510.75v-4.6M595.02 1510.75v-4.6" stroke="#0c0c0c" stroke-width="1.15" fill="none"/><rect x="587.5" y="1506.25" width="4" height="4.5" fill="#111"/><text transform="translate(662.25 1384.2) scale(0.9650 1)" font-size="26.3" text-anchor="middle" fill="#0b0b0b" stroke="#0b0b0b" stroke-width="0.25">CD274_56</text></g><rect x="581.4" y="1349.05" width="161.7" height="161.7" fill="none" stroke="#1c1c1c" stroke-width="1.4" stroke-linejoin="round"/><path d="M65.09 1510.75v7.4M96.48 1510.75v7.4M127.87 1510.75v7.4M159.25 1510.75v7.4M190.64 1510.75v7.4M238.94 826.45v-7.4M268.88 826.45v-7.4M298.83 826.45v-7.4M328.77 826.45v-7.4M358.72 826.45v-7.4M388.66 826.45v-7.4M413.24 1510.75v7.4M453.33 1510.75v7.4M493.41 1510.75v7.4M533.5 1510.75v7.4M587.39 826.45v-7.4M627.53 826.45v-7.4M667.67 826.45v-7.4M707.81 826.45v-7.4M743.1 982.16h7.4M743.1 950.44h7.4M743.1 918.72h7.4M743.1 887h7.4M743.1 855.28h7.4M59.1 1156.01h-7.4M59.1 1126.07h-7.4M59.1 1096.12h-7.4M59.1 1066.18h-7.4M59.1 1036.23h-7.4M59.1 1006.29h-7.4M743.1 1330.66h7.4M743.1 1290.57h7.4M743.1 1250.49h7.4M743.1 1210.4h7.4M59.1 1504.76h-7.4M59.1 1464.62h-7.4M59.1 1424.48h-7.4M59.1 1384.34h-7.4" stroke="#1c1c1c" stroke-width="1.4" fill="none"/><g fill="#12121a" stroke="#12121a" stroke-width="0.32"><text transform="translate(65.09 1534.35) scale(0.9200 1)" font-size="11.6" text-anchor="middle" fill="#1a1a1a">0</text><text transform="translate(96.48 1534.35) scale(0.9200 1)" font-size="11.6" text-anchor="middle" fill="#1a1a1a">20</text><text transform="translate(127.87 1534.35) scale(0.9200 1)" font-size="11.6" text-anchor="middle" fill="#1a1a1a">40</text><text transform="translate(159.25 1534.35) scale(0.9200 1)" font-size="11.6" text-anchor="middle" fill="#1a1a1a">60</text><text transform="translate(190.64 1534.35) scale(0.9200 1)" font-size="11.6" text-anchor="middle" fill="#1a1a1a">80</text><text transform="translate(238.94 811.35) scale(0.9200 1)" font-size="11.6" text-anchor="middle" fill="#1a1a1a">0.0</text><text transform="translate(268.88 811.35) scale(0.9200 1)" font-size="11.6" text-anchor="middle" fill="#1a1a1a">0.5</text><text transform="translate(298.83 811.35) scale(0.9200 1)" font-size="11.6" text-anchor="middle" fill="#1a1a1a">1.0</text><text transform="translate(328.77 811.35) scale(0.9200 1)" font-size="11.6" text-anchor="middle" fill="#1a1a1a">1.5</text><text transform="translate(358.72 811.35) scale(0.9200 1)" font-size="11.6" text-anchor="middle" fill="#1a1a1a">2.0</text><text transform="translate(388.66 811.35) scale(0.9200 1)" font-size="11.6" text-anchor="middle" fill="#1a1a1a">2.5</text><text transform="translate(413.24 1534.35) scale(0.9200 1)" font-size="11.6" text-anchor="middle" fill="#1a1a1a">0</text><text transform="translate(453.33 1534.35) scale(0.9200 1)" font-size="11.6" text-anchor="middle" fill="#1a1a1a">2</text><text transform="translate(493.41 1534.35) scale(0.9200 1)" font-size="11.6" text-anchor="middle" fill="#1a1a1a">4</text><text transform="translate(533.5 1534.35) scale(0.9200 1)" font-size="11.6" text-anchor="middle" fill="#1a1a1a">6</text><text transform="translate(587.39 811.35) scale(0.9200 1)" font-size="11.6" text-anchor="middle" fill="#1a1a1a">0</text><text transform="translate(627.53 811.35) scale(0.9200 1)" font-size="11.6" text-anchor="middle" fill="#1a1a1a">1</text><text transform="translate(667.67 811.35) scale(0.9200 1)" font-size="11.6" text-anchor="middle" fill="#1a1a1a">2</text><text transform="translate(707.81 811.35) scale(0.9200 1)" font-size="11.6" text-anchor="middle" fill="#1a1a1a">3</text><text transform="translate(767.3 982.16) rotate(-90) scale(0.9200 1)" font-size="11.6" text-anchor="middle" fill="#1a1a1a">0</text><text transform="translate(767.3 950.44) rotate(-90) scale(0.9200 1)" font-size="11.6" text-anchor="middle" fill="#1a1a1a">20</text><text transform="translate(767.3 918.72) rotate(-90) scale(0.9200 1)" font-size="11.6" text-anchor="middle" fill="#1a1a1a">40</text><text transform="translate(767.3 887) rotate(-90) scale(0.9200 1)" font-size="11.6" text-anchor="middle" fill="#1a1a1a">60</text><text transform="translate(767.3 855.28) rotate(-90) scale(0.9200 1)" font-size="11.6" text-anchor="middle" fill="#1a1a1a">80</text><text transform="translate(43.6 1156.01) rotate(-90) scale(0.9200 1)" font-size="11.6" text-anchor="middle" fill="#1a1a1a">0.0</text><text transform="translate(43.6 1126.07) rotate(-90) scale(0.9200 1)" font-size="11.6" text-anchor="middle" fill="#1a1a1a">0.5</text><text transform="translate(43.6 1096.12) rotate(-90) scale(0.9200 1)" font-size="11.6" text-anchor="middle" fill="#1a1a1a">1.0</text><text transform="translate(43.6 1066.18) rotate(-90) scale(0.9200 1)" font-size="11.6" text-anchor="middle" fill="#1a1a1a">1.5</text><text transform="translate(43.6 1036.23) rotate(-90) scale(0.9200 1)" font-size="11.6" text-anchor="middle" fill="#1a1a1a">2.0</text><text transform="translate(43.6 1006.29) rotate(-90) scale(0.9200 1)" font-size="11.6" text-anchor="middle" fill="#1a1a1a">2.5</text><text transform="translate(767.3 1330.66) rotate(-90) scale(0.9200 1)" font-size="11.6" text-anchor="middle" fill="#1a1a1a">0</text><text transform="translate(767.3 1290.57) rotate(-90) scale(0.9200 1)" font-size="11.6" text-anchor="middle" fill="#1a1a1a">2</text><text transform="translate(767.3 1250.49) rotate(-90) scale(0.9200 1)" font-size="11.6" text-anchor="middle" fill="#1a1a1a">4</text><text transform="translate(767.3 1210.4) rotate(-90) scale(0.9200 1)" font-size="11.6" text-anchor="middle" fill="#1a1a1a">6</text><text transform="translate(43.6 1504.76) rotate(-90) scale(0.9200 1)" font-size="11.6" text-anchor="middle" fill="#1a1a1a">0</text><text transform="translate(43.6 1464.62) rotate(-90) scale(0.9200 1)" font-size="11.6" text-anchor="middle" fill="#1a1a1a">1</text><text transform="translate(43.6 1424.48) rotate(-90) scale(0.9200 1)" font-size="11.6" text-anchor="middle" fill="#1a1a1a">2</text><text transform="translate(43.6 1384.34) rotate(-90) scale(0.9200 1)" font-size="11.6" text-anchor="middle" fill="#1a1a1a">3</text></g><path d="M907.5 923.45h139v139h-139zM1046.5 923.45h139v139h-139zM1185.5 923.45h139v139h-139zM1324.5 923.45h139v139h-139zM1046.5 1062.45h139v139h-139zM1185.5 1062.45h139v139h-139zM1324.5 1062.45h139v139h-139zM1185.5 1201.45h139v139h-139zM1324.5 1201.45h139v139h-139zM1324.5 1340.45h139v139h-139z" fill="none" stroke="#c4c4c4" stroke-width="1.1"/><circle cx="977" cy="992.45" r="62.06" fill="#1c3260"/><circle cx="1116" cy="992.45" r="55.86" fill="#1f63a8"/><circle cx="1255" cy="992.45" r="50.8" fill="#3783bb"/><circle cx="1394" cy="992.45" r="48.87" fill="#408ec1"/><circle cx="1116" cy="1131.45" r="62.06" fill="#1c3260"/><circle cx="1255" cy="1131.45" r="60.17" fill="#154277"/><circle cx="1394" cy="1131.45" r="59.2" fill="#164982"/><circle cx="1255" cy="1270.45" r="62.06" fill="#1c3260"/><circle cx="1394" cy="1270.45" r="61.75" fill="#1b3564"/><circle cx="1394" cy="1409.45" r="62.06" fill="#1c3260"/><text transform="translate(898.6 999.95) scale(0.9850 1)" font-size="16.2" text-anchor="end" fill="#141414" stroke="#141414" stroke-width="0.2">PD.L1_CPS</text><text transform="translate(1037.6 1138.55) scale(0.9850 1)" font-size="16.2" text-anchor="end" fill="#141414" stroke="#141414" stroke-width="0.2">CD274_12</text><text transform="translate(1176.6 1277.15) scale(0.9850 1)" font-size="16.2" text-anchor="end" fill="#141414" stroke="#141414" stroke-width="0.2">CD274_34</text><text transform="translate(1315.6 1415.75) scale(0.9850 1)" font-size="16.2" text-anchor="end" fill="#141414" stroke="#141414" stroke-width="0.2">CD274_56</text><text transform="translate(980.7 921.25) rotate(-45) scale(0.9800 1)" font-size="16.2" fill="#141414" stroke="#141414" stroke-width="0.2">PD.L1</text><text transform="translate(1119.7 921.25) rotate(-45) scale(0.9800 1)" font-size="16.2" fill="#141414" stroke="#141414" stroke-width="0.2">CD274_12</text><text transform="translate(1258.7 921.25) rotate(-45) scale(0.9800 1)" font-size="16.2" fill="#141414" stroke="#141414" stroke-width="0.2">CD274_34</text><text transform="translate(1397.7 921.25) rotate(-45) scale(0.9800 1)" font-size="16.2" fill="#141414" stroke="#141414" stroke-width="0.2">CD274_56</text><rect x="1472.5" y="923.45" width="16.1" height="556" fill="url(#cb)" stroke="#333338" stroke-width="1.35"/><path d="M1488.6 923.45h3.9M1488.6 979.05h3.9M1488.6 1034.65h3.9M1488.6 1090.25h3.9M1488.6 1145.85h3.9M1488.6 1201.45h3.9M1488.6 1257.05h3.9M1488.6 1312.65h3.9M1488.6 1368.25h3.9M1488.6 1423.85h3.9M1488.6 1479.45h3.9" stroke="#2a2a30" stroke-width="1.5" fill="none"/><text transform="translate(1508.6 929.67) scale(0.9000 1)" font-size="14.3" text-anchor="middle" fill="#14141c" stroke="#14141c" stroke-width="0.3">1</text><text transform="translate(1508.6 985.27) scale(0.9000 1)" font-size="14.3" text-anchor="middle" fill="#14141c" stroke="#14141c" stroke-width="0.3">0.8</text><text transform="translate(1508.6 1040.87) scale(0.9000 1)" font-size="14.3" text-anchor="middle" fill="#14141c" stroke="#14141c" stroke-width="0.3">0.6</text><text transform="translate(1508.6 1096.47) scale(0.9000 1)" font-size="14.3" text-anchor="middle" fill="#14141c" stroke="#14141c" stroke-width="0.3">0.4</text><text transform="translate(1508.6 1152.07) scale(0.9000 1)" font-size="14.3" text-anchor="middle" fill="#14141c" stroke="#14141c" stroke-width="0.3">0.2</text><text transform="translate(1508.6 1207.67) scale(0.9000 1)" font-size="14.3" text-anchor="middle" fill="#14141c" stroke="#14141c" stroke-width="0.3">0</text><text transform="translate(1507.4 1263.27) scale(0.9000 1)" font-size="14.3" text-anchor="middle" fill="#14141c" stroke="#14141c" stroke-width="0.3">-0.2</text><text transform="translate(1507.4 1318.87) scale(0.9000 1)" font-size="14.3" text-anchor="middle" fill="#14141c" stroke="#14141c" stroke-width="0.3">-0.4</text><text transform="translate(1507.4 1374.47) scale(0.9000 1)" font-size="14.3" text-anchor="middle" fill="#14141c" stroke="#14141c" stroke-width="0.3">-0.6</text><text transform="translate(1507.4 1430.07) scale(0.9000 1)" font-size="14.3" text-anchor="middle" fill="#14141c" stroke="#14141c" stroke-width="0.3">-0.8</text><text transform="translate(1507.4 1485.67) scale(0.9000 1)" font-size="14.3" text-anchor="middle" fill="#14141c" stroke="#14141c" stroke-width="0.3">-1</text></g>
<!-- panel C -->
<g><text x="0" y="1606.3" font-size="29.8" font-weight="bold" fill="#060606" stroke="#060606" stroke-width="0.35">C</text><clipPath id="c33"><rect x="59.1" y="1625.7" width="161.7" height="161.7"/></clipPath><g clip-path="url(#c33)"><polyline points="59.4,1760.8 61.1,1732 62.75,1714.3 64.4,1684.4 65.5,1679.4 67.2,1681.1 69.4,1697.7 71.6,1723.2 73.3,1747.5 74.9,1766.3 77.1,1779.6 81,1785.2 84.9,1783 88.2,1779.6 92.1,1781.3 95.4,1781.8 101.5,1786.3 108.1,1786.8 130.3,1786.8 135.8,1785.7 143.6,1779.1 150.2,1786.3 154.7,1786.8 161.3,1786.8 166.8,1785.7 174.6,1779.1 182.3,1786.3 187.9,1786.8 201.2,1786.8 207.8,1785.7 214.5,1783 220.9,1785.7" fill="none" stroke="#0c0c0c" stroke-width="1.2" stroke-linejoin="round"/><rect x="63.6" y="1681.7" width="1.9" height="106" fill="#111"/><rect x="64.4" y="1733.1" width="4.4" height="55" fill="#111"/><rect x="68.8" y="1779.6" width="1.7" height="8" fill="#111"/><rect x="71.6" y="1756.4" width="1.7" height="31" fill="#111"/><rect x="87.9" y="1770.8" width="1.8" height="17" fill="#111"/><rect x="94.5" y="1779.1" width="1.8" height="9" fill="#111"/><rect x="142.5" y="1770.8" width="1.8" height="17" fill="#111"/><rect x="173.5" y="1770.8" width="1.8" height="17" fill="#111"/><rect x="213.6" y="1779.1" width="1.8" height="9" fill="#111"/><text transform="translate(70.9 1660.45) scale(0.9650 1)" font-size="26.3" fill="#0b0b0b" stroke="#0b0b0b" stroke-width="0.25">PD.L1</text><rect x="133.7" y="1658.4" width="12" height="2" fill="#0b0b0b"/></g><rect x="59.1" y="1625.7" width="161.7" height="161.7" fill="none" stroke="#1c1c1c" stroke-width="1.4" stroke-linejoin="round"/><clipPath id="c34"><rect x="232.95" y="1625.7" width="161.7" height="161.7"/></clipPath><g clip-path="url(#c34)"><text transform="translate(312.96 1725.76) scale(0.9730 1)" font-size="54.11" text-anchor="middle" fill="#050505" stroke="#050505" stroke-width="0.55" stroke-linejoin="round">0.93</text></g><rect x="232.95" y="1625.7" width="161.7" height="161.7" fill="none" stroke="#1c1c1c" stroke-width="1.4" stroke-linejoin="round"/><clipPath id="c35"><rect x="407.25" y="1625.7" width="161.7" height="161.7"/></clipPath><g clip-path="url(#c35)"><text transform="translate(487.67 1724) scale(0.9699 1)" font-size="48.1" text-anchor="middle" fill="#050505" stroke="#050505" stroke-width="0.55" stroke-linejoin="round">0.82</text></g><rect x="407.25" y="1625.7" width="161.7" height="161.7" fill="none" stroke="#1c1c1c" stroke-width="1.4" stroke-linejoin="round"/><clipPath id="c36"><rect x="581.4" y="1625.7" width="161.7" height="161.7"/></clipPath><g clip-path="url(#c36)"><text transform="translate(661.42 1723.42) scale(0.9587 1)" font-size="44.96" text-anchor="middle" fill="#050505" stroke="#050505" stroke-width="0.55" stroke-linejoin="round">0.76</text></g><rect x="581.4" y="1625.7" width="161.7" height="161.7" fill="none" stroke="#1c1c1c" stroke-width="1.4" stroke-linejoin="round"/><clipPath id="c37"><rect x="59.1" y="1799.55" width="161.7" height="161.7"/></clipPath><g clip-path="url(#c37)"><polygon points="116.4,1905.66 115.32,1905.13 113.71,1905.11 111.61,1905.61 109.06,1906.62 106.08,1908.13 102.72,1910.1 99.04,1912.51 95.09,1915.32 90.93,1918.5 86.62,1921.99 82.23,1925.74 77.83,1929.69 73.48,1933.78 69.25,1937.96 65.2,1942.15 61.39,1946.3 57.88,1950.34 54.73,1954.21 51.98,1957.85 49.67,1961.2 47.84,1964.22 46.52,1966.86 45.73,1969.08 45.47,1970.85 45.76,1972.13 46.58,1972.92 47.93,1973.19 49.79,1972.95 52.12,1972.19 54.89,1970.93 58.07,1969.19 61.59,1967 65.41,1964.38 69.48,1961.38 73.72,1958.04 78.07,1954.41 82.48,1950.56 86.86,1946.52 91.16,1942.38 95.31,1938.19 99.25,1934.01 102.91,1929.91 106.25,1925.95 109.21,1922.19 111.74,1918.68 113.81,1915.49 115.39,1912.65 116.45,1910.22 116.98,1908.22 116.96,1906.69" fill="none" stroke="#141414" stroke-width="1.15" stroke-linejoin="round"/><g fill="#111"><circle cx="214.81" cy="1805.54" r="1.45"/><circle cx="174.95" cy="1829.75" r="1.45"/><circle cx="174.95" cy="1887.66" r="1.45"/><circle cx="143.56" cy="1862.92" r="1.45"/><circle cx="143.56" cy="1923.7" r="1.45"/><circle cx="96.48" cy="1895.55" r="1.45"/><circle cx="88.63" cy="1952.39" r="1.45"/><circle cx="88.63" cy="1955.26" r="1.45"/><circle cx="65.09" cy="1951.5" r="1.45"/><circle cx="65.09" cy="1946.83" r="1.45"/><circle cx="66.66" cy="1952.21" r="1.45"/><circle cx="68.23" cy="1952.75" r="1.45"/><circle cx="65.09" cy="1940.92" r="1.45"/><circle cx="66.66" cy="1954.72" r="1.45"/><circle cx="68.23" cy="1946.48" r="1.45"/><circle cx="72.94" cy="1954.9" r="1.45"/><circle cx="65.09" cy="1955.08" r="1.45"/><circle cx="66.66" cy="1952.39" r="1.45"/><circle cx="68.23" cy="1944.68" r="1.45"/><circle cx="72.94" cy="1946.65" r="1.45"/><circle cx="65.09" cy="1950.6" r="1.45"/><circle cx="65.09" cy="1952.93" r="1.45"/><circle cx="66.66" cy="1952.75" r="1.45"/><circle cx="68.23" cy="1949.88" r="1.45"/><circle cx="65.09" cy="1954.9" r="1.45"/><circle cx="66.66" cy="1950.24" r="1.45"/><circle cx="68.23" cy="1953.29" r="1.45"/><circle cx="72.94" cy="1947.73" r="1.45"/><circle cx="65.09" cy="1952.39" r="1.45"/><circle cx="66.66" cy="1953.11" r="1.45"/><circle cx="68.23" cy="1945.4" r="1.45"/><circle cx="72.94" cy="1951.67" r="1.45"/></g><polyline points="66.5,1947.75 79.1,1936.55 114.7,1903.55 194.1,1825.05 196.1,1824.55 215,1805.65" fill="none" stroke="#cc2a2a" stroke-width="1.15" stroke-linejoin="round"/><circle cx="81.25" cy="1939.12" r="3.6" fill="#e21f26"/></g><rect x="59.1" y="1799.55" width="161.7" height="161.7" fill="none" stroke="#1c1c1c" stroke-width="1.4" stroke-linejoin="round"/><clipPath id="c38"><rect x="232.95" y="1799.55" width="161.7" height="161.7"/></clipPath><g clip-path="url(#c38)"><rect x="238.94" y="1853.45" width="17.93" height="107.8" fill="#bebebe" stroke="#111" stroke-width="1.1"/><rect x="256.87" y="1958.23" width="17.93" height="3.02" fill="#bebebe" stroke="#111" stroke-width="1.1"/><rect x="292.73" y="1955" width="17.93" height="6.25" fill="#bebebe" stroke="#111" stroke-width="1.1"/><rect x="328.59" y="1958.02" width="17.93" height="3.23" fill="#bebebe" stroke="#111" stroke-width="1.1"/><rect x="346.52" y="1958.02" width="17.93" height="3.23" fill="#bebebe" stroke="#111" stroke-width="1.1"/><rect x="382.39" y="1958.02" width="17.93" height="3.23" fill="#bebebe" stroke="#111" stroke-width="1.1"/><polyline points="233.45,1946.05 240.05,1853.65 241.15,1853.65 256.15,1959.35 258.95,1959.85 264.95,1959.15 269.95,1956.55 274.95,1959.95 282.95,1960.55 289.95,1959.95 292.95,1957.15 295.95,1956.15 308.95,1956.15 311.95,1957.15 315.95,1960.15 322.95,1960.35 326.95,1959.15 330.35,1956.55 333.95,1959.15 338.95,1960.35 350.95,1960.15 358.95,1959.55 362.95,1956.55 366.95,1959.35 370.95,1960.35 378.95,1960.15 383.95,1958.55 388.35,1956.55 391.95,1958.15 394.65,1959.15" fill="none" stroke="#0c0c0c" stroke-width="1.2" stroke-linejoin="round"/><path d="M270.5 1961.25v-4.6M298.65 1961.25v-4.6M306.54 1961.25v-4.6M331.28 1961.25v-4.6M364.45 1961.25v-4.6M388.66 1961.25v-4.6M251.49 1961.25v-4.6" stroke="#0c0c0c" stroke-width="1.15" fill="none"/><rect x="239.55" y="1956.15" width="5" height="5.1" fill="#111"/><rect x="247.25" y="1956.15" width="3.3" height="5.1" fill="#111"/><text transform="translate(313.8 1834.7) scale(0.9650 1)" font-size="26.3" text-anchor="middle" fill="#0b0b0b" stroke="#0b0b0b" stroke-width="0.25">CD274_12</text></g><rect x="232.95" y="1799.55" width="161.7" height="161.7" fill="none" stroke="#1c1c1c" stroke-width="1.4" stroke-linejoin="round"/><clipPath id="c39"><rect x="407.25" y="1799.55" width="161.7" height="161.7"/></clipPath><g clip-path="url(#c39)"><text transform="translate(487.72 1898.8) scale(0.9607 1)" font-size="48.68" text-anchor="middle" fill="#050505" stroke="#050505" stroke-width="0.55" stroke-linejoin="round">0.82</text></g><rect x="407.25" y="1799.55" width="161.7" height="161.7" fill="none" stroke="#1c1c1c" stroke-width="1.4" stroke-linejoin="round"/><clipPath id="c40"><rect x="581.4" y="1799.55" width="161.7" height="161.7"/></clipPath><g clip-path="url(#c40)"><text transform="translate(662.09 1897.82) scale(0.9774 1)" font-size="46.39" text-anchor="middle" fill="#050505" stroke="#050505" stroke-width="0.55" stroke-linejoin="round">0.79</text></g><rect x="581.4" y="1799.55" width="161.7" height="161.7" fill="none" stroke="#1c1c1c" stroke-width="1.4" stroke-linejoin="round"/><clipPath id="c41"><rect x="59.1" y="1974.2" width="161.7" height="161.7"/></clipPath><g clip-path="url(#c41)"><polygon points="115.39,2095.66 113.81,2094.91 111.74,2094.54 109.21,2094.55 106.25,2094.94 102.91,2095.71 99.25,2096.85 95.31,2098.34 91.16,2100.15 86.86,2102.26 82.47,2104.63 78.07,2107.24 73.71,2110.03 69.47,2112.98 65.41,2116.03 61.59,2119.14 58.06,2122.25 54.89,2125.34 52.12,2128.33 49.79,2131.2 47.93,2133.9 46.58,2136.38 45.76,2138.61 45.47,2140.56 45.73,2142.2 46.52,2143.49 47.84,2144.43 49.67,2144.99 51.98,2145.17 54.73,2144.97 57.88,2144.39 61.39,2143.43 65.2,2142.12 69.25,2140.47 73.48,2138.5 77.83,2136.26 82.24,2133.76 86.63,2131.05 90.93,2128.18 95.09,2125.17 99.04,2122.09 102.72,2118.97 106.08,2115.86 109.06,2112.82 111.61,2109.88 113.71,2107.09 115.32,2104.5 116.41,2102.14 116.96,2100.04 116.98,2098.25 116.45,2096.78" fill="none" stroke="#141414" stroke-width="1.15" stroke-linejoin="round"/><g fill="#111"><circle cx="214.81" cy="1980.19" r="1.45"/><circle cx="174.95" cy="2083.27" r="1.45"/><circle cx="174.95" cy="2097.66" r="1.45"/><circle cx="143.56" cy="2121.62" r="1.45"/><circle cx="143.56" cy="2094.21" r="1.45"/><circle cx="96.48" cy="2111.48" r="1.45"/><circle cx="88.63" cy="2125.53" r="1.45"/><circle cx="88.63" cy="2129.91" r="1.45"/><circle cx="65.09" cy="2123.75" r="1.45"/><circle cx="65.09" cy="2123.58" r="1.45"/><circle cx="66.66" cy="2122.94" r="1.45"/><circle cx="68.23" cy="2122.19" r="1.45"/><circle cx="65.09" cy="2120.81" r="1.45"/><circle cx="66.66" cy="2126.69" r="1.45"/><circle cx="68.23" cy="2123.46" r="1.45"/><circle cx="72.94" cy="2128.07" r="1.45"/><circle cx="65.09" cy="2119.72" r="1.45"/><circle cx="66.66" cy="2126.8" r="1.45"/><circle cx="68.23" cy="2119.95" r="1.45"/><circle cx="72.94" cy="2125.07" r="1.45"/><circle cx="65.09" cy="2122.48" r="1.45"/><circle cx="65.09" cy="2129.16" r="1.45"/><circle cx="66.66" cy="2123.35" r="1.45"/><circle cx="68.23" cy="2129.28" r="1.45"/><circle cx="65.09" cy="2125.13" r="1.45"/><circle cx="66.66" cy="2124.27" r="1.45"/><circle cx="68.23" cy="2122.77" r="1.45"/><circle cx="72.94" cy="2129.34" r="1.45"/><circle cx="65.09" cy="2121.96" r="1.45"/><circle cx="66.66" cy="2118.91" r="1.45"/><circle cx="68.23" cy="2119.95" r="1.45"/><circle cx="72.94" cy="2119.6" r="1.45"/></g><polyline points="65.1,2126.4 72.4,2120.4 95.9,2130.3 140.7,2099 175.1,2082.9 215,2064.4" fill="none" stroke="#cc2a2a" stroke-width="1.15" stroke-linejoin="round"/><circle cx="81.25" cy="2119.83" r="3.6" fill="#e21f26"/></g><rect x="59.1" y="1974.2" width="161.7" height="161.7" fill="none" stroke="#1c1c1c" stroke-width="1.4" stroke-linejoin="round"/><clipPath id="c42"><rect x="232.95" y="1974.2" width="161.7" height="161.7"/></clipPath><g clip-path="url(#c42)"><polygon points="287.58,2095.66 286.07,2094.91 284.1,2094.54 281.69,2094.55 278.87,2094.94 275.7,2095.71 272.21,2096.85 268.46,2098.34 264.51,2100.15 260.41,2102.26 256.24,2104.63 252.05,2107.24 247.9,2110.03 243.86,2112.98 239.99,2116.03 236.35,2119.14 233,2122.25 229.98,2125.34 227.34,2128.33 225.12,2131.2 223.35,2133.9 222.06,2136.38 221.28,2138.61 221.01,2140.56 221.25,2142.2 222.01,2143.49 223.27,2144.43 225.01,2144.99 227.21,2145.17 229.82,2144.97 232.83,2144.39 236.16,2143.43 239.79,2142.12 243.65,2140.47 247.68,2138.5 251.82,2136.26 256.01,2133.76 260.19,2131.05 264.29,2128.18 268.25,2125.17 272.01,2122.09 275.52,2118.97 278.71,2115.86 281.55,2112.82 283.98,2109.88 285.98,2107.09 287.51,2104.5 288.54,2102.14 289.07,2100.04 289.09,2098.25 288.59,2096.78" fill="none" stroke="#141414" stroke-width="1.15" stroke-linejoin="round"/><g fill="#111"><circle cx="388.66" cy="1980.19" r="1.45"/><circle cx="364.45" cy="2083.27" r="1.45"/><circle cx="306.54" cy="2097.66" r="1.45"/><circle cx="331.28" cy="2121.62" r="1.45"/><circle cx="270.5" cy="2094.21" r="1.45"/><circle cx="298.65" cy="2111.48" r="1.45"/><circle cx="241.81" cy="2125.53" r="1.45"/><circle cx="238.94" cy="2129.91" r="1.45"/><circle cx="242.7" cy="2123.75" r="1.45"/><circle cx="247.37" cy="2123.58" r="1.45"/><circle cx="241.99" cy="2122.94" r="1.45"/><circle cx="241.45" cy="2122.19" r="1.45"/><circle cx="253.28" cy="2120.81" r="1.45"/><circle cx="239.48" cy="2126.69" r="1.45"/><circle cx="247.72" cy="2123.46" r="1.45"/><circle cx="239.3" cy="2128.07" r="1.45"/><circle cx="239.12" cy="2119.72" r="1.45"/><circle cx="241.81" cy="2126.8" r="1.45"/><circle cx="249.52" cy="2119.95" r="1.45"/><circle cx="247.55" cy="2125.07" r="1.45"/><circle cx="243.6" cy="2122.48" r="1.45"/><circle cx="241.27" cy="2129.16" r="1.45"/><circle cx="241.45" cy="2123.35" r="1.45"/><circle cx="244.32" cy="2129.28" r="1.45"/><circle cx="239.3" cy="2125.13" r="1.45"/><circle cx="243.96" cy="2124.27" r="1.45"/><circle cx="240.91" cy="2122.77" r="1.45"/><circle cx="246.47" cy="2129.34" r="1.45"/><circle cx="241.81" cy="2121.96" r="1.45"/><circle cx="241.09" cy="2118.91" r="1.45"/><circle cx="248.8" cy="2119.95" r="1.45"/><circle cx="242.53" cy="2119.6" r="1.45"/></g><polyline points="239.95,2128.7 242.95,2125.2 249.95,2124.2 268.95,2097.7 277.95,2096.2 289.95,2097.2 327.95,2093.2 362.95,2090.7 388.95,2088.2" fill="none" stroke="#cc2a2a" stroke-width="1.15" stroke-linejoin="round"/><circle cx="255.08" cy="2119.83" r="3.6" fill="#e21f26"/></g><rect x="232.95" y="1974.2" width="161.7" height="161.7" fill="none" stroke="#1c1c1c" stroke-width="1.4" stroke-linejoin="round"/><clipPath id="c43"><rect x="407.25" y="1974.2" width="161.7" height="161.7"/></clipPath><g clip-path="url(#c43)"><rect x="413.24" y="2028.1" width="28.79" height="107.8" fill="#bebebe" stroke="#111" stroke-width="1.1"/><rect x="442.03" y="2127.49" width="28.22" height="8.41" fill="#bebebe" stroke="#111" stroke-width="1.1"/><rect x="557.2" y="2133.74" width="28.79" height="2.16" fill="#bebebe" stroke="#111" stroke-width="1.1"/><polyline points="407.65,2122.7 409.65,2093.9 411.85,2060.6 414.05,2031.9 415.75,2028.7 417.35,2034.1 420.75,2060.6 425.15,2093.9 429.55,2121.6 432.35,2129.3 436.25,2133.2 439.55,2133.7 442.85,2130.4 446.15,2128.2 449.55,2130.4 452.85,2132.6 457.25,2132.1 460.55,2131.5 465.05,2134.3 469.45,2135.5 547.25,2135.5 554.75,2135.4 559.15,2133.2 563.05,2131.5 569.05,2133.7" fill="none" stroke="#0c0c0c" stroke-width="1.2" stroke-linejoin="round"/><path d="M433.97 2135.9v-4.6M431.67 2135.9v-4.6M445.49 2135.9v-4.6M448.94 2135.9v-4.6M459.88 2135.9v-4.6M562.96 2135.9v-4.6M436.27 2135.9v-4.6" stroke="#0c0c0c" stroke-width="1.15" fill="none"/><rect x="414.05" y="2130.8" width="5.6" height="5.1" fill="#111"/><rect x="422.35" y="2130.8" width="4.5" height="5.1" fill="#111"/><text transform="translate(488.1 2009.35) scale(0.9650 1)" font-size="26.3" text-anchor="middle" fill="#0b0b0b" stroke="#0b0b0b" stroke-width="0.25">CD274_34</text></g><rect x="407.25" y="1974.2" width="161.7" height="161.7" fill="none" stroke="#1c1c1c" stroke-width="1.4" stroke-linejoin="round"/><clipPath id="c44"><rect x="581.4" y="1974.2" width="161.7" height="161.7"/></clipPath><g clip-path="url(#c44)"><text transform="translate(661.5 2075.01) scale(1.0158 1)" font-size="55.24" text-anchor="middle" fill="#050505" stroke="#050505" stroke-width="0.55" stroke-linejoin="round">0.99</text></g><rect x="581.4" y="1974.2" width="161.7" height="161.7" fill="none" stroke="#1c1c1c" stroke-width="1.4" stroke-linejoin="round"/><clipPath id="c45"><rect x="59.1" y="2148.3" width="161.7" height="161.7"/></clipPath><g clip-path="url(#c45)"><polygon points="114.82,2271.5 113.04,2270.63 110.78,2270.12 108.08,2269.99 104.96,2270.22 101.49,2270.82 97.71,2271.78 93.68,2273.09 89.46,2274.71 85.12,2276.64 80.72,2278.84 76.33,2281.28 72.01,2283.91 67.83,2286.71 63.86,2289.62 60.15,2292.61 56.75,2295.63 53.74,2298.62 51.13,2301.56 48.99,2304.39 47.33,2307.07 46.19,2309.56 45.58,2311.82 45.51,2313.81 45.98,2315.52 46.99,2316.9 48.51,2317.95 50.54,2318.63 53.02,2318.96 55.94,2318.91 59.24,2318.49 62.87,2317.71 66.79,2316.58 70.92,2315.11 75.21,2313.32 79.58,2311.26 83.99,2308.94 88.35,2306.4 92.61,2303.67 96.69,2300.81 100.54,2297.86 104.1,2294.85 107.31,2291.84 110.13,2288.86 112.51,2285.98 114.41,2283.22 115.81,2280.63 116.69,2278.25 117.03,2276.12 116.83,2274.26 116.09,2272.72" fill="none" stroke="#141414" stroke-width="1.15" stroke-linejoin="round"/><g fill="#111"><circle cx="214.81" cy="2154.29" r="1.45"/><circle cx="174.95" cy="2254.33" r="1.45"/><circle cx="174.95" cy="2288.63" r="1.45"/><circle cx="143.56" cy="2304.01" r="1.45"/><circle cx="143.56" cy="2277.2" r="1.45"/><circle cx="96.48" cy="2282.37" r="1.45"/><circle cx="88.63" cy="2304.01" r="1.45"/><circle cx="88.63" cy="2304.01" r="1.45"/><circle cx="65.09" cy="2295.57" r="1.45"/><circle cx="65.09" cy="2298.02" r="1.45"/><circle cx="66.66" cy="2295.98" r="1.45"/><circle cx="68.23" cy="2296.12" r="1.45"/><circle cx="65.09" cy="2296.52" r="1.45"/><circle cx="66.66" cy="2299.52" r="1.45"/><circle cx="68.23" cy="2296.8" r="1.45"/><circle cx="72.94" cy="2302.51" r="1.45"/><circle cx="65.09" cy="2295.57" r="1.45"/><circle cx="66.66" cy="2302.51" r="1.45"/><circle cx="68.23" cy="2294.89" r="1.45"/><circle cx="72.94" cy="2296.52" r="1.45"/><circle cx="65.09" cy="2296.25" r="1.45"/><circle cx="65.09" cy="2303.47" r="1.45"/><circle cx="66.66" cy="2299.25" r="1.45"/><circle cx="68.23" cy="2300.61" r="1.45"/><circle cx="65.09" cy="2300.34" r="1.45"/><circle cx="66.66" cy="2297.75" r="1.45"/><circle cx="68.23" cy="2296.8" r="1.45"/><circle cx="72.94" cy="2304.01" r="1.45"/><circle cx="65.09" cy="2296.12" r="1.45"/><circle cx="66.66" cy="2294.76" r="1.45"/><circle cx="68.23" cy="2292.31" r="1.45"/><circle cx="72.94" cy="2295.57" r="1.45"/></g><polyline points="65.1,2302.4 72.4,2296.4 95.9,2307.6 140.7,2276.3 215,2231.3" fill="none" stroke="#cc2a2a" stroke-width="1.15" stroke-linejoin="round"/><circle cx="81.25" cy="2294.48" r="3.6" fill="#e21f26"/></g><rect x="59.1" y="2148.3" width="161.7" height="161.7" fill="none" stroke="#1c1c1c" stroke-width="1.4" stroke-linejoin="round"/><clipPath id="c46"><rect x="232.95" y="2148.3" width="161.7" height="161.7"/></clipPath><g clip-path="url(#c46)"><polygon points="287.31,2271.31 285.71,2270.51 283.64,2270.07 281.14,2270 278.25,2270.31 275,2270.98 271.46,2272.01 267.66,2273.37 263.68,2275.06 259.56,2277.05 255.38,2279.29 251.19,2281.77 247.06,2284.44 243.05,2287.26 239.22,2290.19 235.64,2293.19 232.35,2296.21 229.4,2299.2 226.84,2302.12 224.71,2304.92 223.05,2307.56 221.86,2310.01 221.18,2312.22 221.02,2314.16 221.37,2315.81 222.23,2317.13 223.59,2318.11 225.42,2318.73 227.71,2318.98 230.41,2318.86 233.49,2318.37 236.89,2317.52 240.57,2316.32 244.46,2314.79 248.52,2312.95 252.68,2310.83 256.87,2308.46 261.04,2305.88 265.12,2303.13 269.04,2300.25 272.76,2297.28 276.2,2294.27 279.33,2291.26 282.08,2288.3 284.43,2285.43 286.33,2282.7 287.76,2280.15 288.69,2277.82 289.12,2275.74 289.03,2273.94 288.42,2272.46" fill="none" stroke="#141414" stroke-width="1.15" stroke-linejoin="round"/><g fill="#111"><circle cx="388.66" cy="2154.29" r="1.45"/><circle cx="364.45" cy="2254.33" r="1.45"/><circle cx="306.54" cy="2288.63" r="1.45"/><circle cx="331.28" cy="2304.01" r="1.45"/><circle cx="270.5" cy="2277.2" r="1.45"/><circle cx="298.65" cy="2282.37" r="1.45"/><circle cx="241.81" cy="2304.01" r="1.45"/><circle cx="238.94" cy="2304.01" r="1.45"/><circle cx="242.7" cy="2295.57" r="1.45"/><circle cx="247.37" cy="2298.02" r="1.45"/><circle cx="241.99" cy="2295.98" r="1.45"/><circle cx="241.45" cy="2296.12" r="1.45"/><circle cx="253.28" cy="2296.52" r="1.45"/><circle cx="239.48" cy="2299.52" r="1.45"/><circle cx="247.72" cy="2296.8" r="1.45"/><circle cx="239.3" cy="2302.51" r="1.45"/><circle cx="239.12" cy="2295.57" r="1.45"/><circle cx="241.81" cy="2302.51" r="1.45"/><circle cx="249.52" cy="2294.89" r="1.45"/><circle cx="247.55" cy="2296.52" r="1.45"/><circle cx="243.6" cy="2296.25" r="1.45"/><circle cx="241.27" cy="2303.47" r="1.45"/><circle cx="241.45" cy="2299.25" r="1.45"/><circle cx="244.32" cy="2300.61" r="1.45"/><circle cx="239.3" cy="2300.34" r="1.45"/><circle cx="243.96" cy="2297.75" r="1.45"/><circle cx="240.91" cy="2296.8" r="1.45"/><circle cx="246.47" cy="2304.01" r="1.45"/><circle cx="241.81" cy="2296.12" r="1.45"/><circle cx="241.09" cy="2294.76" r="1.45"/><circle cx="248.8" cy="2292.31" r="1.45"/><circle cx="242.53" cy="2295.57" r="1.45"/></g><polyline points="239.95,2304.3 242.95,2302.3 248.95,2301.3 256.95,2295.3 269.45,2277.3 297.95,2284.3 388.95,2297.8" fill="none" stroke="#cc2a2a" stroke-width="1.15" stroke-linejoin="round"/><circle cx="255.08" cy="2294.48" r="3.6" fill="#e21f26"/></g><rect x="232.95" y="2148.3" width="161.7" height="161.7" fill="none" stroke="#1c1c1c" stroke-width="1.4" stroke-linejoin="round"/><clipPath id="c47"><rect x="407.25" y="2148.3" width="161.7" height="161.7"/></clipPath><g clip-path="url(#c47)"><polygon points="448.59,2270.04 448.18,2270.02 447.39,2270.36 446.24,2271.07 444.74,2272.13 442.91,2273.54 440.79,2275.26 438.4,2277.27 435.78,2279.54 432.98,2282.04 430.03,2284.73 426.97,2287.56 423.86,2290.5 420.75,2293.5 417.67,2296.52 414.68,2299.51 411.81,2302.41 409.13,2305.2 406.66,2307.83 404.44,2310.25 402.5,2312.44 400.88,2314.35 399.61,2315.96 398.69,2317.25 398.14,2318.19 397.98,2318.77 398.2,2318.98 398.8,2318.82 399.77,2318.3 401.1,2317.41 402.77,2316.17 404.75,2314.61 407.01,2312.74 409.52,2310.59 412.23,2308.2 415.11,2305.6 418.12,2302.84 421.21,2299.94 424.33,2296.97 427.43,2293.95 430.47,2290.95 433.41,2287.99 436.19,2285.14 438.77,2282.43 441.12,2279.9 443.2,2277.59 444.98,2275.54 446.43,2273.77 447.53,2272.32 448.26,2271.21 448.62,2270.44" fill="none" stroke="#141414" stroke-width="1.15" stroke-linejoin="round"/><g fill="#111"><circle cx="562.96" cy="2154.29" r="1.45"/><circle cx="459.88" cy="2254.33" r="1.45"/><circle cx="445.49" cy="2288.63" r="1.45"/><circle cx="421.53" cy="2304.01" r="1.45"/><circle cx="448.94" cy="2277.2" r="1.45"/><circle cx="431.67" cy="2282.37" r="1.45"/><circle cx="417.62" cy="2304.01" r="1.45"/><circle cx="413.24" cy="2304.01" r="1.45"/><circle cx="419.4" cy="2295.57" r="1.45"/><circle cx="419.57" cy="2298.02" r="1.45"/><circle cx="420.21" cy="2295.98" r="1.45"/><circle cx="420.96" cy="2296.12" r="1.45"/><circle cx="422.34" cy="2296.52" r="1.45"/><circle cx="416.46" cy="2299.52" r="1.45"/><circle cx="419.69" cy="2296.8" r="1.45"/><circle cx="415.08" cy="2302.51" r="1.45"/><circle cx="423.43" cy="2295.57" r="1.45"/><circle cx="416.35" cy="2302.51" r="1.45"/><circle cx="423.2" cy="2294.89" r="1.45"/><circle cx="418.08" cy="2296.52" r="1.45"/><circle cx="420.67" cy="2296.25" r="1.45"/><circle cx="413.99" cy="2303.47" r="1.45"/><circle cx="419.8" cy="2299.25" r="1.45"/><circle cx="413.87" cy="2300.61" r="1.45"/><circle cx="418.02" cy="2300.34" r="1.45"/><circle cx="418.88" cy="2297.75" r="1.45"/><circle cx="420.38" cy="2296.8" r="1.45"/><circle cx="413.81" cy="2304.01" r="1.45"/><circle cx="421.19" cy="2296.12" r="1.45"/><circle cx="424.24" cy="2294.76" r="1.45"/><circle cx="423.2" cy="2292.31" r="1.45"/><circle cx="423.55" cy="2295.57" r="1.45"/></g><polyline points="413.25,2303.8 421.25,2298.3 429.25,2290.3 441.25,2281.3 449.25,2276.3 459.25,2268.3 477.25,2248.3 507.25,2215.3 563.25,2154.8" fill="none" stroke="#cc2a2a" stroke-width="1.15" stroke-linejoin="round"/><circle cx="423.32" cy="2294.48" r="3.6" fill="#e21f26"/></g><rect x="407.25" y="2148.3" width="161.7" height="161.7" fill="none" stroke="#1c1c1c" stroke-width="1.4" stroke-linejoin="round"/><clipPath id="c48"><rect x="581.4" y="2148.3" width="161.7" height="161.7"/></clipPath><g clip-path="url(#c48)"><rect x="587.39" y="2202.2" width="27.22" height="107.8" fill="#bebebe" stroke="#111" stroke-width="1.1"/><rect x="614.61" y="2305.15" width="27.22" height="4.85" fill="#bebebe" stroke="#111" stroke-width="1.1"/><rect x="723.5" y="2307.84" width="27.22" height="2.16" fill="#bebebe" stroke="#111" stroke-width="1.1"/><polyline points="581.8,2296.3 583.6,2268.3 585.6,2236.3 587.6,2208.3 589.2,2202.7 590.8,2208.3 593.9,2236.3 597.4,2266.3 600.9,2288.3 604.4,2300.3 608.4,2305.7 612.4,2306.9 617.4,2309.1 625.4,2309.5 633.4,2308.8 637.4,2306.1 641.4,2308.8 647.4,2309.6 721.4,2309.6 731.4,2308.3 737.4,2305.9 743.1,2307.8" fill="none" stroke="#0c0c0c" stroke-width="1.2" stroke-linejoin="round"/><path d="M587.39 2310v-4.6M588.07 2310v-4.6M588.75 2310v-4.6M589.43 2310v-4.6M590.11 2310v-4.6M590.79 2310v-4.6M591.47 2310v-4.6M592.83 2310v-4.6M594.19 2310v-4.6M595.56 2310v-4.6M596.92 2310v-4.6M598.28 2310v-4.6M599.64 2310v-4.6M601 2310v-4.6M602.77 2310v-4.6M604.68 2310v-4.6M609.03 2310v-4.6M614.2 2310v-4.6M637.07 2310v-4.6M736.57 2310v-4.6" stroke="#0c0c0c" stroke-width="1.15" fill="none"/><text transform="translate(662.25 2183.45) scale(0.9650 1)" font-size="26.3" text-anchor="middle" fill="#0b0b0b" stroke="#0b0b0b" stroke-width="0.25">CD274_56</text></g><rect x="581.4" y="2148.3" width="161.7" height="161.7" fill="none" stroke="#1c1c1c" stroke-width="1.4" stroke-linejoin="round"/><path d="M65.09 2310v7.4M96.48 2310v7.4M127.87 2310v7.4M159.25 2310v7.4M190.64 2310v7.4M238.94 1625.7v-7.4M274.8 1625.7v-7.4M310.66 1625.7v-7.4M346.52 1625.7v-7.4M382.39 1625.7v-7.4M413.24 2310v7.4M442.03 2310v7.4M470.82 2310v7.4M499.62 2310v7.4M528.41 2310v7.4M557.2 2310v7.4M587.39 1625.7v-7.4M614.61 1625.7v-7.4M641.83 1625.7v-7.4M669.06 1625.7v-7.4M696.28 1625.7v-7.4M723.5 1625.7v-7.4M743.1 1781.41h7.4M743.1 1749.69h7.4M743.1 1717.97h7.4M743.1 1686.25h7.4M743.1 1654.53h7.4M59.1 1955.26h-7.4M59.1 1919.4h-7.4M59.1 1883.54h-7.4M59.1 1847.68h-7.4M59.1 1811.81h-7.4M743.1 2129.91h7.4M743.1 2101.12h7.4M743.1 2072.33h7.4M743.1 2043.53h7.4M743.1 2014.74h7.4M743.1 1985.95h7.4M59.1 2304.01h-7.4M59.1 2276.79h-7.4M59.1 2249.57h-7.4M59.1 2222.34h-7.4M59.1 2195.12h-7.4M59.1 2167.9h-7.4" stroke="#1c1c1c" stroke-width="1.4" fill="none"/><g fill="#12121a" stroke="#12121a" stroke-width="0.32"><text transform="translate(65.09 2333.6) scale(0.9200 1)" font-size="11.6" text-anchor="middle" fill="#1a1a1a">0</text><text transform="translate(96.48 2333.6) scale(0.9200 1)" font-size="11.6" text-anchor="middle" fill="#1a1a1a">20</text><text transform="translate(127.87 2333.6) scale(0.9200 1)" font-size="11.6" text-anchor="middle" fill="#1a1a1a">40</text><text transform="translate(159.25 2333.6) scale(0.9200 1)" font-size="11.6" text-anchor="middle" fill="#1a1a1a">60</text><text transform="translate(190.64 2333.6) scale(0.9200 1)" font-size="11.6" text-anchor="middle" fill="#1a1a1a">80</text><text transform="translate(238.94 1610.6) scale(0.9200 1)" font-size="11.6" text-anchor="middle" fill="#1a1a1a">0.0</text><text transform="translate(274.8 1610.6) scale(0.9200 1)" font-size="11.6" text-anchor="middle" fill="#1a1a1a">0.2</text><text transform="translate(310.66 1610.6) scale(0.9200 1)" font-size="11.6" text-anchor="middle" fill="#1a1a1a">0.4</text><text transform="translate(346.52 1610.6) scale(0.9200 1)" font-size="11.6" text-anchor="middle" fill="#1a1a1a">0.6</text><text transform="translate(382.39 1610.6) scale(0.9200 1)" font-size="11.6" text-anchor="middle" fill="#1a1a1a">0.8</text><text transform="translate(413.24 2333.6) scale(0.9200 1)" font-size="11.6" text-anchor="middle" fill="#1a1a1a">0.0</text><text transform="translate(442.03 2333.6) scale(0.9200 1)" font-size="11.6" text-anchor="middle" fill="#1a1a1a">0.5</text><text transform="translate(470.82 2333.6) scale(0.9200 1)" font-size="11.6" text-anchor="middle" fill="#1a1a1a">1.0</text><text transform="translate(499.62 2333.6) scale(0.9200 1)" font-size="11.6" text-anchor="middle" fill="#1a1a1a">1.5</text><text transform="translate(528.41 2333.6) scale(0.9200 1)" font-size="11.6" text-anchor="middle" fill="#1a1a1a">2.0</text><text transform="translate(557.2 2333.6) scale(0.9200 1)" font-size="11.6" text-anchor="middle" fill="#1a1a1a">2.5</text><text transform="translate(587.39 1610.6) scale(0.9200 1)" font-size="11.6" text-anchor="middle" fill="#1a1a1a">0.0</text><text transform="translate(614.61 1610.6) scale(0.9200 1)" font-size="11.6" text-anchor="middle" fill="#1a1a1a">0.2</text><text transform="translate(641.83 1610.6) scale(0.9200 1)" font-size="11.6" text-anchor="middle" fill="#1a1a1a">0.4</text><text transform="translate(669.06 1610.6) scale(0.9200 1)" font-size="11.6" text-anchor="middle" fill="#1a1a1a">0.6</text><text transform="translate(696.28 1610.6) scale(0.9200 1)" font-size="11.6" text-anchor="middle" fill="#1a1a1a">0.8</text><text transform="translate(723.5 1610.6) scale(0.9200 1)" font-size="11.6" text-anchor="middle" fill="#1a1a1a">1.0</text><text transform="translate(767.3 1781.41) rotate(-90) scale(0.9200 1)" font-size="11.6" text-anchor="middle" fill="#1a1a1a">0</text><text transform="translate(767.3 1749.69) rotate(-90) scale(0.9200 1)" font-size="11.6" text-anchor="middle" fill="#1a1a1a">20</text><text transform="translate(767.3 1717.97) rotate(-90) scale(0.9200 1)" font-size="11.6" text-anchor="middle" fill="#1a1a1a">40</text><text transform="translate(767.3 1686.25) rotate(-90) scale(0.9200 1)" font-size="11.6" text-anchor="middle" fill="#1a1a1a">60</text><text transform="translate(767.3 1654.53) rotate(-90) scale(0.9200 1)" font-size="11.6" text-anchor="middle" fill="#1a1a1a">80</text><text transform="translate(43.6 1955.26) rotate(-90) scale(0.9200 1)" font-size="11.6" text-anchor="middle" fill="#1a1a1a">0.0</text><text transform="translate(43.6 1919.4) rotate(-90) scale(0.9200 1)" font-size="11.6" text-anchor="middle" fill="#1a1a1a">0.2</text><text transform="translate(43.6 1883.54) rotate(-90) scale(0.9200 1)" font-size="11.6" text-anchor="middle" fill="#1a1a1a">0.4</text><text transform="translate(43.6 1847.68) rotate(-90) scale(0.9200 1)" font-size="11.6" text-anchor="middle" fill="#1a1a1a">0.6</text><text transform="translate(43.6 1811.81) rotate(-90) scale(0.9200 1)" font-size="11.6" text-anchor="middle" fill="#1a1a1a">0.8</text><text transform="translate(767.3 2129.91) rotate(-90) scale(0.9200 1)" font-size="11.6" text-anchor="middle" fill="#1a1a1a">0.0</text><text transform="translate(767.3 2101.12) rotate(-90) scale(0.9200 1)" font-size="11.6" text-anchor="middle" fill="#1a1a1a">0.5</text><text transform="translate(767.3 2072.33) rotate(-90) scale(0.9200 1)" font-size="11.6" text-anchor="middle" fill="#1a1a1a">1.0</text><text transform="translate(767.3 2043.53) rotate(-90) scale(0.9200 1)" font-size="11.6" text-anchor="middle" fill="#1a1a1a">1.5</text><text transform="translate(767.3 2014.74) rotate(-90) scale(0.9200 1)" font-size="11.6" text-anchor="middle" fill="#1a1a1a">2.0</text><text transform="translate(767.3 1985.95) rotate(-90) scale(0.9200 1)" font-size="11.6" text-anchor="middle" fill="#1a1a1a">2.5</text><text transform="translate(43.6 2304.01) rotate(-90) scale(0.9200 1)" font-size="11.6" text-anchor="middle" fill="#1a1a1a">0.0</text><text transform="translate(43.6 2276.79) rotate(-90) scale(0.9200 1)" font-size="11.6" text-anchor="middle" fill="#1a1a1a">0.2</text><text transform="translate(43.6 2249.57) rotate(-90) scale(0.9200 1)" font-size="11.6" text-anchor="middle" fill="#1a1a1a">0.4</text><text transform="translate(43.6 2222.34) rotate(-90) scale(0.9200 1)" font-size="11.6" text-anchor="middle" fill="#1a1a1a">0.6</text><text transform="translate(43.6 2195.12) rotate(-90) scale(0.9200 1)" font-size="11.6" text-anchor="middle" fill="#1a1a1a">0.8</text><text transform="translate(43.6 2167.9) rotate(-90) scale(0.9200 1)" font-size="11.6" text-anchor="middle" fill="#1a1a1a">1.0</text></g><path d="M907.5 1722.8h139v139h-139zM1046.5 1722.8h139v139h-139zM1185.5 1722.8h139v139h-139zM1324.5 1722.8h139v139h-139zM1046.5 1861.8h139v139h-139zM1185.5 1861.8h139v139h-139zM1324.5 1861.8h139v139h-139zM1185.5 2000.8h139v139h-139zM1324.5 2000.8h139v139h-139zM1324.5 2139.8h139v139h-139z" fill="none" stroke="#c4c4c4" stroke-width="1.1"/><circle cx="977" cy="1791.8" r="62.06" fill="#1c3260"/><circle cx="1116" cy="1791.8" r="59.85" fill="#15447b"/><circle cx="1255" cy="1791.8" r="56.2" fill="#1e61a4"/><circle cx="1394" cy="1791.8" r="54.11" fill="#286fb1"/><circle cx="1116" cy="1930.8" r="62.06" fill="#1c3260"/><circle cx="1255" cy="1930.8" r="56.2" fill="#1e61a4"/><circle cx="1394" cy="1930.8" r="55.16" fill="#2368ad"/><circle cx="1255" cy="2069.8" r="62.06" fill="#1c3260"/><circle cx="1394" cy="2069.8" r="61.75" fill="#1b3564"/><circle cx="1394" cy="2208.8" r="62.06" fill="#1c3260"/><text transform="translate(812 1799.3) scale(0.9850 1)" font-size="16.2" fill="#141414" stroke="#141414" stroke-width="0.2">PD.L1</text><text transform="translate(1037.6 1937.9) scale(0.9850 1)" font-size="16.2" text-anchor="end" fill="#141414" stroke="#141414" stroke-width="0.2">CD274_12</text><text transform="translate(1176.6 2076.5) scale(0.9850 1)" font-size="16.2" text-anchor="end" fill="#141414" stroke="#141414" stroke-width="0.2">CD274_34</text><text transform="translate(1315.6 2215.1) scale(0.9850 1)" font-size="16.2" text-anchor="end" fill="#141414" stroke="#141414" stroke-width="0.2">CD274_56</text><text transform="translate(980.7 1720.6) rotate(-45) scale(0.9800 1)" font-size="16.2" fill="#141414" stroke="#141414" stroke-width="0.2">PD.L1</text><text transform="translate(1119.7 1720.6) rotate(-45) scale(0.9800 1)" font-size="16.2" fill="#141414" stroke="#141414" stroke-width="0.2">CD274_12</text><text transform="translate(1258.7 1720.6) rotate(-45) scale(0.9800 1)" font-size="16.2" fill="#141414" stroke="#141414" stroke-width="0.2">CD274_34</text><text transform="translate(1397.7 1720.6) rotate(-45) scale(0.9800 1)" font-size="16.2" fill="#141414" stroke="#141414" stroke-width="0.2">CD274_56</text><rect x="1472.5" y="1722.8" width="16.1" height="556" fill="url(#cb)" stroke="#333338" stroke-width="1.35"/><path d="M1488.6 1722.8h3.9M1488.6 1778.4h3.9M1488.6 1834h3.9M1488.6 1889.6h3.9M1488.6 1945.2h3.9M1488.6 2000.8h3.9M1488.6 2056.4h3.9M1488.6 2112h3.9M1488.6 2167.6h3.9M1488.6 2223.2h3.9M1488.6 2278.8h3.9" stroke="#2a2a30" stroke-width="1.5" fill="none"/><text transform="translate(1508.6 1729.02) scale(0.9000 1)" font-size="14.3" text-anchor="middle" fill="#14141c" stroke="#14141c" stroke-width="0.3">1</text><text transform="translate(1508.6 1784.62) scale(0.9000 1)" font-size="14.3" text-anchor="middle" fill="#14141c" stroke="#14141c" stroke-width="0.3">0.8</text><text transform="translate(1508.6 1840.22) scale(0.9000 1)" font-size="14.3" text-anchor="middle" fill="#14141c" stroke="#14141c" stroke-width="0.3">0.6</text><text transform="translate(1508.6 1895.82) scale(0.9000 1)" font-size="14.3" text-anchor="middle" fill="#14141c" stroke="#14141c" stroke-width="0.3">0.4</text><text transform="translate(1508.6 1951.42) scale(0.9000 1)" font-size="14.3" text-anchor="middle" fill="#14141c" stroke="#14141c" stroke-width="0.3">0.2</text><text transform="translate(1508.6 2007.02) scale(0.9000 1)" font-size="14.3" text-anchor="middle" fill="#14141c" stroke="#14141c" stroke-width="0.3">0</text><text transform="translate(1507.4 2062.62) scale(0.9000 1)" font-size="14.3" text-anchor="middle" fill="#14141c" stroke="#14141c" stroke-width="0.3">-0.2</text><text transform="translate(1507.4 2118.22) scale(0.9000 1)" font-size="14.3" text-anchor="middle" fill="#14141c" stroke="#14141c" stroke-width="0.3">-0.4</text><text transform="translate(1507.4 2173.82) scale(0.9000 1)" font-size="14.3" text-anchor="middle" fill="#14141c" stroke="#14141c" stroke-width="0.3">-0.6</text><text transform="translate(1507.4 2229.42) scale(0.9000 1)" font-size="14.3" text-anchor="middle" fill="#14141c" stroke="#14141c" stroke-width="0.3">-0.8</text><text transform="translate(1507.4 2285.02) scale(0.9000 1)" font-size="14.3" text-anchor="middle" fill="#14141c" stroke="#14141c" stroke-width="0.3">-1</text></g></svg></body></html>
